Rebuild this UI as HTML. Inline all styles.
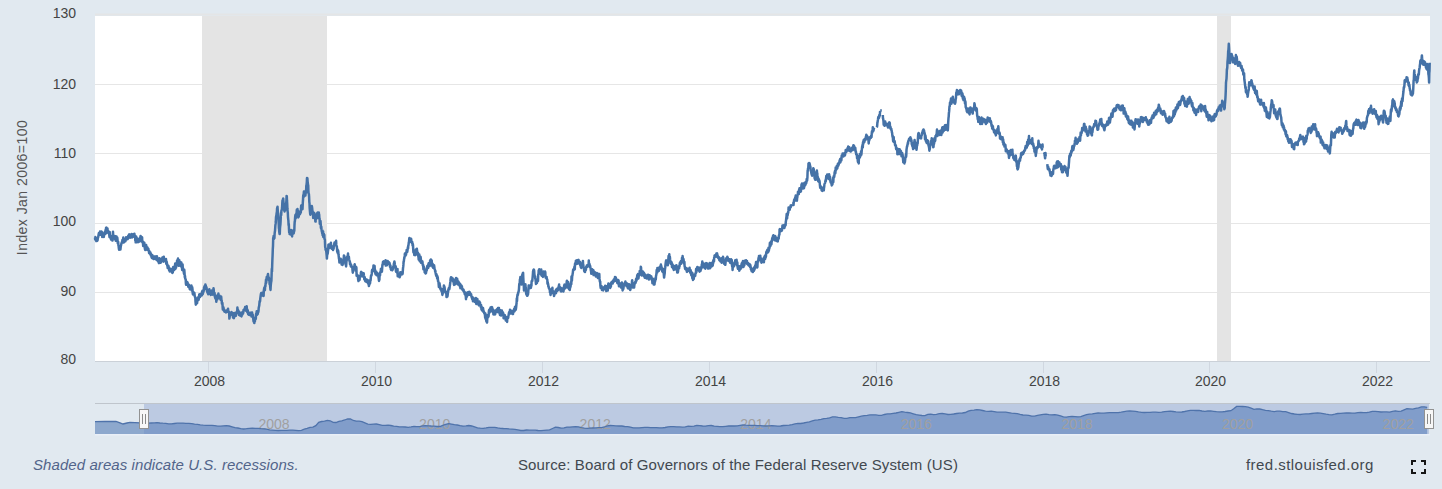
<!DOCTYPE html>
<html><head><meta charset="utf-8"><style>
html,body{margin:0;padding:0;}
body{width:1442px;height:489px;background:#e1e9f0;overflow:hidden;position:relative;font-family:"Liberation Sans", sans-serif;}
svg{position:absolute;left:0;top:0;font-family:"Liberation Sans", sans-serif;}
.ft{position:absolute;top:456px;font-size:15px;line-height:18px;white-space:nowrap;}
</style></head><body>
<svg width="1442" height="489" viewBox="0 0 1442 489">
<rect x="95" y="16" width="1335" height="346" fill="#ffffff"/>
<rect x="95" y="13.5" width="1335" height="2" fill="#e4e5e6"/>
<path d="M95 84.5 L1430 84.5" stroke="#e6e6e6" stroke-width="1"/>
<path d="M95 153.5 L1430 153.5" stroke="#e6e6e6" stroke-width="1"/>
<path d="M95 223.5 L1430 223.5" stroke="#e6e6e6" stroke-width="1"/>
<path d="M95 292.5 L1430 292.5" stroke="#e6e6e6" stroke-width="1"/>
<rect x="202" y="16" width="125" height="345" fill="#e4e4e4"/>
<rect x="1217" y="16" width="14" height="345" fill="#e4e4e4"/>
<path d="M95 361.5 L1430 361.5" stroke="#cbd1d8" stroke-width="1"/>
<path d="M208.5 362 L208.5 373" stroke="#d0d7e0" stroke-width="1"/>
<path d="M375.5 362 L375.5 373" stroke="#d0d7e0" stroke-width="1"/>
<path d="M542.5 362 L542.5 373" stroke="#d0d7e0" stroke-width="1"/>
<path d="M709.5 362 L709.5 373" stroke="#d0d7e0" stroke-width="1"/>
<path d="M876.5 362 L876.5 373" stroke="#d0d7e0" stroke-width="1"/>
<path d="M1043.5 362 L1043.5 373" stroke="#d0d7e0" stroke-width="1"/>
<path d="M1209.5 362 L1209.5 373" stroke="#d0d7e0" stroke-width="1"/>
<path d="M1376.5 362 L1376.5 373" stroke="#d0d7e0" stroke-width="1"/>
<path d="M95.0 237.6 L95.2 239.6 L95.4 237.0 L95.6 239.2 L95.9 238.0 L96.1 237.8 L96.3 241.1 L96.5 239.5 L96.7 238.9 L96.9 239.9 L97.2 240.9 L97.4 239.6 L97.6 240.2 L97.8 238.2 L98.0 237.8 L98.2 237.2 L98.5 235.3 L98.7 234.0 L98.9 233.1 L99.1 234.5 L99.3 234.6 L99.5 234.0 L99.8 234.0 L100.0 231.4 L100.2 232.2 L100.4 233.4 L100.6 234.8 L100.9 233.1 L101.1 233.5 L101.3 231.5 L101.5 233.4 L101.7 231.7 L102.0 232.6 L102.2 236.9 L102.4 233.5 L102.6 236.6 L102.9 236.7 L103.1 235.6 L103.3 236.2 L103.5 236.4 L103.8 237.0 L104.0 235.1 L104.2 233.9 L104.4 233.2 L104.6 232.2 L104.8 233.0 L105.1 231.9 L105.3 234.1 L105.5 230.1 L105.7 229.8 L105.9 229.7 L106.1 227.7 L106.4 232.9 L106.6 227.7 L106.8 229.1 L107.0 228.9 L107.2 232.6 L107.5 228.5 L107.7 232.2 L107.9 230.8 L108.1 231.5 L108.3 231.2 L108.6 233.4 L108.8 231.6 L109.0 233.0 L109.2 234.3 L109.5 237.2 L109.7 232.0 L109.9 236.6 L110.1 237.4 L110.3 235.8 L110.5 236.8 L110.8 236.2 L111.0 239.5 L111.2 238.6 L111.4 238.0 L111.6 238.1 L111.8 237.9 L112.0 237.8 L112.3 236.6 L112.5 240.6 L112.7 235.8 L113.0 231.7 L113.2 235.6 L113.4 236.7 L113.6 237.7 L113.8 237.1 L114.1 236.9 L114.3 237.5 L114.5 238.5 L114.8 236.6 L115.0 236.1 L115.2 239.3 L115.4 238.5 L115.6 236.2 L115.8 240.7 L116.0 239.9 L116.3 237.9 L116.5 236.6 L116.7 238.6 L116.9 237.7 L117.1 237.3 L117.3 237.7 L117.5 239.6 L117.8 243.3 L118.0 242.7 L118.2 241.7 L118.4 245.2 L118.6 246.0 L118.8 248.0 L119.1 249.8 L119.3 249.0 L119.5 249.4 L119.7 248.9 L119.9 246.7 L120.2 248.4 L120.4 249.6 L120.6 247.8 L120.8 246.2 L121.0 245.4 L121.3 244.0 L121.5 243.1 L121.7 243.1 L121.9 242.1 L122.2 242.0 L122.4 239.9 L122.6 241.8 L122.8 241.9 L123.0 240.0 L123.3 237.6 L123.5 240.2 L123.7 242.6 L123.9 240.4 L124.1 240.0 L124.3 239.6 L124.6 241.3 L124.8 239.3 L125.0 241.4 L125.2 240.0 L125.4 241.3 L125.6 240.2 L125.9 239.4 L126.1 237.2 L126.3 237.6 L126.5 238.1 L126.8 239.4 L127.0 239.0 L127.2 237.2 L127.4 238.1 L127.7 239.0 L127.9 237.4 L128.1 236.3 L128.3 235.8 L128.6 237.2 L128.8 237.0 L129.0 234.5 L129.2 235.9 L129.4 235.1 L129.6 234.5 L129.9 237.4 L130.1 237.7 L130.3 235.5 L130.5 236.1 L130.7 237.0 L130.9 235.6 L131.2 236.0 L131.4 237.3 L131.6 234.1 L131.8 236.4 L132.0 237.5 L132.2 237.4 L132.4 234.5 L132.7 236.0 L132.9 234.6 L133.1 236.2 L133.3 236.6 L133.5 236.1 L133.7 234.3 L134.0 234.0 L134.2 235.9 L134.4 233.8 L134.6 235.1 L134.8 236.4 L135.1 236.2 L135.3 240.7 L135.5 239.1 L135.7 242.3 L135.9 237.6 L136.2 236.4 L136.4 241.5 L136.6 242.2 L136.8 241.0 L137.0 241.1 L137.3 238.3 L137.5 239.4 L137.7 239.1 L137.9 240.2 L138.1 242.2 L138.3 241.6 L138.6 241.9 L138.8 240.4 L139.0 240.3 L139.2 241.1 L139.4 240.1 L139.6 241.6 L139.8 238.4 L140.0 241.2 L140.2 237.2 L140.4 238.6 L140.6 235.9 L140.8 239.5 L141.0 238.7 L141.2 239.3 L141.4 240.4 L141.7 239.1 L141.9 238.5 L142.1 237.3 L142.3 242.3 L142.5 241.3 L142.7 241.4 L142.9 242.5 L143.2 246.1 L143.4 241.9 L143.6 243.9 L143.8 243.8 L144.1 245.5 L144.3 242.7 L144.5 244.3 L144.7 246.9 L144.9 249.0 L145.2 250.0 L145.4 246.9 L145.6 247.6 L145.8 247.5 L146.0 245.6 L146.2 245.0 L146.5 248.2 L146.7 248.4 L146.9 247.9 L147.1 249.9 L147.3 247.2 L147.5 248.7 L147.8 248.5 L148.0 248.3 L148.2 249.2 L148.4 249.0 L148.6 249.6 L148.8 250.1 L149.1 253.2 L149.3 251.1 L149.5 252.9 L149.8 253.2 L150.0 252.2 L150.2 254.0 L150.4 252.4 L150.7 255.4 L150.9 253.7 L151.1 254.0 L151.3 255.5 L151.5 256.9 L151.7 257.6 L152.0 258.0 L152.2 256.7 L152.4 255.3 L152.6 257.4 L152.8 257.9 L153.0 256.3 L153.3 258.9 L153.5 258.8 L153.7 257.2 L153.9 259.0 L154.1 256.8 L154.3 256.8 L154.6 258.7 L154.8 256.4 L155.0 258.1 L155.2 256.5 L155.4 259.1 L155.6 257.7 L155.9 258.7 L156.1 256.4 L156.3 257.5 L156.5 259.8 L156.7 259.7 L156.9 256.2 L157.2 259.3 L157.4 260.2 L157.6 258.6 L157.8 261.1 L158.1 258.3 L158.3 259.2 L158.5 261.4 L158.7 262.6 L158.9 263.1 L159.2 260.0 L159.4 258.2 L159.6 261.1 L159.9 259.5 L160.1 261.1 L160.3 260.1 L160.5 262.7 L160.7 262.8 L160.9 262.0 L161.1 260.7 L161.4 259.9 L161.6 258.8 L161.8 259.2 L162.0 258.7 L162.2 258.5 L162.4 257.5 L162.6 260.9 L162.9 259.6 L163.1 261.1 L163.3 261.6 L163.6 258.6 L163.8 256.7 L164.0 260.6 L164.2 259.5 L164.4 260.1 L164.7 259.9 L164.9 260.6 L165.1 259.2 L165.3 260.7 L165.5 260.9 L165.8 261.9 L166.0 259.0 L166.2 263.2 L166.4 264.0 L166.6 261.5 L166.8 262.5 L167.1 264.2 L167.3 265.9 L167.5 265.8 L167.7 268.1 L167.9 267.1 L168.1 265.5 L168.4 265.7 L168.6 268.2 L168.8 267.2 L169.0 269.3 L169.2 270.5 L169.4 270.5 L169.7 271.4 L169.9 270.1 L170.1 270.3 L170.3 269.7 L170.5 269.8 L170.7 268.7 L171.0 270.1 L171.2 270.0 L171.4 269.7 L171.6 271.5 L171.8 272.2 L172.1 271.0 L172.3 272.9 L172.5 272.6 L172.8 272.4 L173.0 269.6 L173.2 267.1 L173.4 269.2 L173.7 269.2 L173.9 269.5 L174.1 268.9 L174.3 270.0 L174.5 267.9 L174.7 268.6 L174.9 266.4 L175.2 263.6 L175.4 265.4 L175.6 268.8 L175.8 265.0 L176.0 267.8 L176.2 265.1 L176.4 264.0 L176.7 263.6 L176.9 263.1 L177.1 260.4 L177.4 260.5 L177.6 260.3 L177.8 260.1 L178.0 258.6 L178.2 262.0 L178.4 264.0 L178.6 265.8 L178.9 261.1 L179.1 262.4 L179.3 260.2 L179.5 263.3 L179.7 265.0 L179.9 263.0 L180.1 262.0 L180.4 264.6 L180.6 266.2 L180.8 264.8 L181.1 265.4 L181.3 262.4 L181.5 264.4 L181.7 266.5 L181.9 267.4 L182.2 270.0 L182.4 266.9 L182.6 264.6 L182.8 268.3 L183.0 268.1 L183.2 269.6 L183.5 271.0 L183.7 271.5 L183.9 273.2 L184.1 273.9 L184.3 269.8 L184.5 272.3 L184.8 277.1 L185.0 275.9 L185.2 278.6 L185.4 278.8 L185.7 279.3 L185.9 283.4 L186.1 284.8 L186.3 283.1 L186.5 284.5 L186.7 281.7 L187.0 281.9 L187.2 284.5 L187.4 284.2 L187.6 282.6 L187.8 284.5 L188.0 285.0 L188.3 286.8 L188.5 286.9 L188.7 285.3 L188.9 284.6 L189.1 285.1 L189.3 285.3 L189.6 288.1 L189.8 289.2 L190.0 289.4 L190.2 288.1 L190.5 287.0 L190.7 288.5 L190.9 287.3 L191.2 288.0 L191.4 285.5 L191.6 286.7 L191.8 290.4 L192.0 288.2 L192.2 287.3 L192.5 289.4 L192.7 293.1 L192.9 294.4 L193.1 292.4 L193.3 292.0 L193.5 292.9 L193.8 292.3 L194.0 294.0 L194.2 294.4 L194.4 293.1 L194.6 294.9 L194.8 296.7 L195.1 297.0 L195.3 297.5 L195.5 301.3 L195.8 304.7 L196.0 303.2 L196.2 303.2 L196.4 303.7 L196.6 302.4 L196.8 300.8 L197.1 303.2 L197.3 299.8 L197.5 298.9 L197.7 298.3 L197.9 297.5 L198.1 297.8 L198.4 298.7 L198.6 299.9 L198.8 298.7 L199.0 297.0 L199.2 294.5 L199.4 295.5 L199.6 294.4 L199.9 295.2 L200.1 296.9 L200.3 296.2 L200.5 295.3 L200.7 294.1 L200.9 294.7 L201.2 295.0 L201.4 293.4 L201.6 293.5 L201.8 295.5 L202.0 291.8 L202.2 292.2 L202.5 290.8 L202.7 294.1 L202.9 293.3 L203.2 292.6 L203.4 291.9 L203.6 291.1 L203.8 290.5 L204.1 287.2 L204.3 288.6 L204.5 289.2 L204.7 285.9 L205.0 288.0 L205.2 288.0 L205.4 284.4 L205.6 285.6 L205.8 286.6 L206.0 286.9 L206.3 288.8 L206.5 287.3 L206.7 288.8 L206.9 290.3 L207.1 291.9 L207.3 291.8 L207.6 291.7 L207.8 293.4 L208.0 290.3 L208.2 294.2 L208.4 293.3 L208.6 291.5 L208.9 292.2 L209.1 290.3 L209.3 289.3 L209.5 291.6 L209.7 291.6 L209.9 293.8 L210.2 292.0 L210.4 290.8 L210.6 290.9 L210.8 294.9 L211.0 293.5 L211.2 292.1 L211.5 291.1 L211.7 290.6 L211.9 291.8 L212.1 293.0 L212.3 294.4 L212.6 294.7 L212.8 293.5 L213.0 291.7 L213.2 290.8 L213.5 288.3 L213.7 289.4 L213.9 292.6 L214.1 293.0 L214.4 294.7 L214.6 293.1 L214.8 296.5 L215.0 297.1 L215.2 297.5 L215.4 298.6 L215.7 295.5 L215.9 297.6 L216.1 298.2 L216.3 301.8 L216.5 299.6 L216.7 298.2 L216.9 299.5 L217.2 296.8 L217.4 299.4 L217.6 296.7 L217.8 296.6 L218.0 295.0 L218.2 297.3 L218.4 293.6 L218.6 296.9 L218.9 295.7 L219.1 296.8 L219.3 295.4 L219.5 297.1 L219.7 297.6 L219.9 298.5 L220.1 298.4 L220.4 299.0 L220.6 299.8 L220.8 298.0 L221.0 296.4 L221.2 296.8 L221.5 300.5 L221.7 300.7 L221.9 303.7 L222.1 303.7 L222.4 302.9 L222.6 306.2 L222.8 309.5 L223.0 308.0 L223.3 307.1 L223.5 307.7 L223.7 310.5 L223.9 309.4 L224.2 309.6 L224.4 311.6 L224.6 311.4 L224.9 311.8 L225.1 311.2 L225.3 311.1 L225.5 311.9 L225.8 312.0 L226.0 312.4 L226.2 310.7 L226.4 311.3 L226.7 311.5 L226.9 310.8 L227.1 311.1 L227.3 311.7 L227.6 310.4 L227.8 309.7 L228.0 308.7 L228.2 310.9 L228.5 311.5 L228.7 311.9 L228.9 311.7 L229.2 314.3 L229.4 318.6 L229.6 317.2 L229.8 315.8 L230.0 315.7 L230.2 313.9 L230.4 314.2 L230.7 313.0 L230.9 312.5 L231.1 313.4 L231.3 313.5 L231.5 312.8 L231.7 312.1 L231.9 313.8 L232.2 312.6 L232.4 315.4 L232.6 314.9 L232.8 315.5 L233.0 317.2 L233.2 317.7 L233.5 315.4 L233.7 316.6 L233.9 318.2 L234.1 315.9 L234.3 312.9 L234.6 315.2 L234.8 315.5 L235.0 316.0 L235.2 315.4 L235.4 314.9 L235.6 314.6 L235.9 315.9 L236.1 314.6 L236.3 314.0 L236.5 312.0 L236.7 313.4 L236.9 311.5 L237.2 312.0 L237.4 307.6 L237.6 309.4 L237.8 310.0 L238.0 309.8 L238.3 312.7 L238.5 312.5 L238.7 311.8 L238.9 311.3 L239.1 315.0 L239.3 314.7 L239.6 314.7 L239.8 312.8 L240.0 315.6 L240.2 315.6 L240.4 314.6 L240.6 314.8 L240.9 312.8 L241.1 315.9 L241.3 314.4 L241.5 316.4 L241.7 314.8 L242.0 313.8 L242.2 314.7 L242.4 314.4 L242.6 312.1 L242.8 312.7 L243.0 313.6 L243.3 312.3 L243.5 310.0 L243.7 310.7 L243.9 309.6 L244.2 309.6 L244.4 310.3 L244.6 310.2 L244.8 309.6 L245.1 307.1 L245.3 309.1 L245.5 308.6 L245.7 308.0 L246.0 308.4 L246.2 310.9 L246.4 307.4 L246.7 306.3 L246.9 309.9 L247.1 309.0 L247.3 312.2 L247.6 310.1 L247.8 310.5 L248.0 313.0 L248.2 314.2 L248.5 314.2 L248.7 314.6 L248.9 313.6 L249.1 312.8 L249.3 312.8 L249.6 315.0 L249.8 314.7 L250.0 313.5 L250.2 313.6 L250.4 314.3 L250.6 315.0 L250.8 313.1 L251.1 312.6 L251.3 313.0 L251.5 316.4 L251.7 313.9 L251.9 315.6 L252.1 312.6 L252.3 316.0 L252.5 314.3 L252.8 314.9 L253.0 316.4 L253.2 318.3 L253.4 320.0 L253.6 321.5 L253.8 320.9 L254.0 319.4 L254.3 323.1 L254.5 320.6 L254.7 319.9 L254.9 321.4 L255.1 319.9 L255.3 318.5 L255.6 317.4 L255.8 319.0 L256.0 314.7 L256.2 313.4 L256.5 314.5 L256.7 311.3 L256.9 312.0 L257.1 314.8 L257.4 313.0 L257.6 313.2 L257.8 313.8 L258.0 311.0 L258.3 312.0 L258.5 310.8 L258.7 308.0 L258.9 307.0 L259.2 305.8 L259.4 303.6 L259.6 301.3 L259.9 301.7 L260.1 300.9 L260.3 298.4 L260.5 296.8 L260.8 294.6 L261.0 293.9 L261.2 293.0 L261.4 294.4 L261.7 295.5 L261.9 295.5 L262.1 293.8 L262.3 292.8 L262.5 293.3 L262.7 293.3 L262.9 294.0 L263.2 295.4 L263.4 292.6 L263.6 295.9 L263.8 290.6 L264.0 289.4 L264.2 288.2 L264.4 287.6 L264.7 287.7 L264.9 290.2 L265.1 286.0 L265.4 286.5 L265.6 283.5 L265.8 282.5 L266.0 279.7 L266.2 283.0 L266.5 279.7 L266.7 277.1 L266.9 279.8 L267.1 276.7 L267.3 276.7 L267.6 276.1 L267.8 275.0 L268.0 274.0 L268.2 275.7 L268.4 279.0 L268.7 278.4 L268.9 277.5 L269.1 280.7 L269.4 279.8 L269.6 284.1 L269.8 284.5 L270.0 284.6 L270.3 288.0 L270.5 290.0 L270.7 286.1 L270.9 283.8 L271.1 282.4 L271.4 280.7 L271.6 274.9 L271.8 268.7 L272.0 271.8 L272.2 265.0 L272.4 259.2 L272.6 255.1 L272.8 249.0 L273.0 245.8 L273.2 237.9 L273.4 238.0 L273.6 236.0 L273.8 239.1 L274.0 237.0 L274.2 237.9 L274.4 238.2 L274.6 234.0 L274.8 231.9 L275.0 231.0 L275.2 228.0 L275.4 225.1 L275.6 223.9 L275.8 222.0 L276.0 217.4 L276.2 215.9 L276.4 215.4 L276.6 213.5 L276.9 211.7 L277.1 208.1 L277.3 210.2 L277.5 206.7 L277.7 209.7 L277.9 212.2 L278.1 215.1 L278.3 218.1 L278.5 219.5 L278.7 223.8 L278.9 228.3 L279.1 229.4 L279.2 231.4 L279.4 232.9 L279.6 234.0 L279.8 233.8 L280.0 228.1 L280.2 226.2 L280.4 224.7 L280.6 221.3 L280.8 216.4 L281.0 213.0 L281.2 215.1 L281.4 210.9 L281.7 210.0 L281.9 209.4 L282.1 207.5 L282.3 203.0 L282.5 200.4 L282.8 201.1 L283.0 199.3 L283.2 198.4 L283.4 201.1 L283.6 203.5 L283.8 203.4 L284.0 204.3 L284.2 209.9 L284.4 210.7 L284.6 211.5 L284.8 208.5 L285.0 210.4 L285.3 207.3 L285.5 205.6 L285.7 206.6 L285.9 205.5 L286.1 204.5 L286.4 200.5 L286.6 195.9 L286.8 196.3 L287.0 200.7 L287.2 203.5 L287.4 208.7 L287.6 211.4 L287.8 212.2 L288.0 216.8 L288.2 219.1 L288.4 220.7 L288.6 225.2 L288.8 223.9 L289.0 229.2 L289.2 232.4 L289.4 230.2 L289.6 234.0 L289.8 234.2 L290.0 232.7 L290.2 233.0 L290.4 232.6 L290.6 233.6 L290.8 232.8 L291.0 230.1 L291.2 234.2 L291.4 234.9 L291.7 232.5 L291.9 234.2 L292.1 236.4 L292.3 231.6 L292.6 231.8 L292.8 231.6 L293.0 233.1 L293.2 232.1 L293.5 230.1 L293.7 233.4 L293.9 232.0 L294.1 230.7 L294.3 231.0 L294.5 224.8 L294.7 221.7 L294.9 221.1 L295.1 217.6 L295.3 215.8 L295.5 214.8 L295.7 218.4 L296.0 215.9 L296.2 214.4 L296.4 213.3 L296.6 213.1 L296.8 209.7 L297.1 210.4 L297.3 211.8 L297.5 209.0 L297.7 211.0 L297.9 212.0 L298.1 212.2 L298.3 217.4 L298.5 216.9 L298.7 216.7 L298.9 215.6 L299.1 215.0 L299.3 213.5 L299.5 212.4 L299.8 211.7 L300.0 214.1 L300.2 212.2 L300.4 211.3 L300.6 210.8 L300.8 212.7 L301.0 207.9 L301.2 205.5 L301.4 206.9 L301.7 207.3 L301.9 207.0 L302.1 205.8 L302.3 207.3 L302.5 209.2 L302.7 204.9 L302.9 201.0 L303.0 200.1 L303.2 195.7 L303.4 194.9 L303.6 195.5 L303.9 191.6 L304.1 196.6 L304.3 194.9 L304.5 195.2 L304.7 194.9 L305.0 194.8 L305.2 192.0 L305.4 195.6 L305.6 193.1 L305.8 190.6 L306.1 192.8 L306.3 185.6 L306.5 185.1 L306.8 182.3 L307.0 178.1 L307.2 180.7 L307.4 178.3 L307.6 181.3 L307.8 182.9 L308.0 184.9 L308.2 185.0 L308.4 191.1 L308.6 193.5 L308.9 194.1 L309.1 196.6 L309.3 201.8 L309.5 203.4 L309.7 208.5 L310.0 212.0 L310.2 213.9 L310.4 214.7 L310.6 213.1 L310.8 213.8 L311.0 211.4 L311.2 213.0 L311.4 208.7 L311.6 207.4 L311.8 206.1 L312.0 206.9 L312.2 208.4 L312.4 210.9 L312.6 211.0 L312.8 212.7 L313.0 213.2 L313.2 217.9 L313.4 216.7 L313.6 217.7 L313.9 212.7 L314.1 215.4 L314.3 215.6 L314.5 217.8 L314.7 218.1 L315.0 217.7 L315.2 219.2 L315.4 221.6 L315.6 221.6 L315.8 218.4 L316.0 219.1 L316.2 216.1 L316.4 216.4 L316.6 213.5 L316.8 214.8 L317.0 217.5 L317.2 214.5 L317.5 216.0 L317.7 212.5 L317.9 212.8 L318.1 217.9 L318.3 215.5 L318.6 215.7 L318.8 212.6 L319.0 214.3 L319.2 214.8 L319.4 218.9 L319.6 218.4 L319.8 223.8 L320.1 220.8 L320.3 223.0 L320.5 221.0 L320.7 223.8 L320.9 227.9 L321.1 228.1 L321.3 226.7 L321.5 229.4 L321.8 231.4 L322.0 231.8 L322.2 233.2 L322.4 230.5 L322.6 235.1 L322.9 235.3 L323.1 231.6 L323.3 237.0 L323.5 235.5 L323.7 237.0 L323.9 234.1 L324.1 235.7 L324.3 234.8 L324.5 239.0 L324.7 239.0 L324.9 240.0 L325.0 242.7 L325.2 247.2 L325.4 247.3 L325.6 249.9 L325.8 249.0 L326.0 249.0 L326.3 251.6 L326.5 253.7 L326.7 255.9 L326.9 258.6 L327.1 255.7 L327.3 254.0 L327.5 254.2 L327.8 252.9 L328.0 250.8 L328.2 249.7 L328.4 244.8 L328.6 246.0 L328.8 244.7 L329.0 246.0 L329.2 248.1 L329.4 244.7 L329.7 247.5 L329.9 245.9 L330.1 245.8 L330.3 245.3 L330.5 246.7 L330.7 244.9 L330.9 242.7 L331.1 245.9 L331.3 246.4 L331.5 247.9 L331.7 248.6 L332.0 246.3 L332.2 248.0 L332.4 248.6 L332.6 248.7 L332.8 249.3 L333.0 250.0 L333.2 248.1 L333.4 247.7 L333.6 248.8 L333.8 245.5 L334.0 245.6 L334.3 243.7 L334.5 242.6 L334.7 242.7 L334.9 243.2 L335.1 244.8 L335.3 242.3 L335.5 244.2 L335.7 244.8 L335.9 244.9 L336.1 240.7 L336.3 244.9 L336.6 246.7 L336.8 246.1 L337.0 248.3 L337.2 251.6 L337.4 249.2 L337.6 250.0 L337.8 253.1 L338.1 250.5 L338.3 251.6 L338.5 254.5 L338.8 257.1 L339.0 258.9 L339.2 259.3 L339.4 262.5 L339.7 261.2 L339.9 258.9 L340.1 259.9 L340.3 261.6 L340.5 261.9 L340.7 258.7 L340.9 261.4 L341.2 260.7 L341.4 261.5 L341.6 264.5 L341.8 263.1 L342.0 262.1 L342.2 262.9 L342.4 261.6 L342.6 264.9 L342.8 263.7 L343.0 263.1 L343.2 260.1 L343.5 258.9 L343.7 259.5 L343.9 255.6 L344.1 258.9 L344.3 256.0 L344.5 256.8 L344.7 258.5 L345.0 257.9 L345.2 260.0 L345.4 261.8 L345.6 264.7 L345.9 264.0 L346.1 266.5 L346.3 263.6 L346.5 260.9 L346.7 260.7 L347.0 257.7 L347.2 256.8 L347.4 256.4 L347.6 256.1 L347.8 255.8 L348.0 253.5 L348.2 257.5 L348.5 257.4 L348.7 257.1 L348.9 256.8 L349.1 259.2 L349.3 260.1 L349.6 261.5 L349.8 261.2 L350.0 264.1 L350.2 262.9 L350.5 264.0 L350.7 264.6 L350.9 266.6 L351.2 265.1 L351.4 265.8 L351.6 266.6 L351.9 266.6 L352.1 267.0 L352.3 266.8 L352.5 270.1 L352.8 272.7 L353.0 270.2 L353.2 271.4 L353.4 268.6 L353.6 267.9 L353.8 268.1 L354.0 268.4 L354.3 268.7 L354.5 264.9 L354.7 264.3 L354.9 265.9 L355.1 265.5 L355.3 268.6 L355.5 267.3 L355.7 267.2 L355.9 270.8 L356.2 266.9 L356.4 267.8 L356.6 275.8 L356.8 274.0 L357.0 274.9 L357.2 275.2 L357.4 274.8 L357.6 276.2 L357.8 275.4 L358.1 279.0 L358.3 280.3 L358.5 281.1 L358.7 279.4 L358.9 277.8 L359.1 280.0 L359.3 278.6 L359.6 279.8 L359.8 276.5 L360.0 275.9 L360.2 276.7 L360.5 276.7 L360.7 275.5 L360.9 272.5 L361.2 271.8 L361.4 275.0 L361.6 274.9 L361.8 272.5 L362.0 276.0 L362.2 274.2 L362.4 274.1 L362.7 273.0 L362.9 276.4 L363.1 275.5 L363.3 275.1 L363.5 274.0 L363.7 273.3 L363.9 275.7 L364.1 276.6 L364.3 279.5 L364.6 277.1 L364.8 277.5 L365.0 280.1 L365.2 281.0 L365.4 278.9 L365.6 281.6 L365.8 280.9 L366.0 281.4 L366.2 280.8 L366.5 281.6 L366.7 279.8 L366.9 279.6 L367.1 281.6 L367.3 281.2 L367.5 281.0 L367.7 283.0 L368.0 282.9 L368.2 283.7 L368.4 280.6 L368.6 282.9 L368.9 286.1 L369.1 285.2 L369.3 284.4 L369.5 284.2 L369.7 282.9 L370.0 283.2 L370.2 281.9 L370.4 279.8 L370.6 280.3 L370.8 277.6 L371.1 275.5 L371.3 275.6 L371.5 275.4 L371.8 273.4 L372.0 270.6 L372.2 269.9 L372.4 270.0 L372.7 270.0 L372.9 270.8 L373.1 268.8 L373.3 268.3 L373.5 265.5 L373.7 270.0 L373.9 270.9 L374.2 270.1 L374.4 268.9 L374.6 266.0 L374.8 270.3 L375.0 269.5 L375.2 272.9 L375.4 273.1 L375.6 274.3 L375.8 272.8 L376.0 274.6 L376.2 271.6 L376.5 275.2 L376.7 274.4 L376.9 272.7 L377.1 273.7 L377.3 273.4 L377.5 275.4 L377.7 274.9 L377.9 274.2 L378.1 275.7 L378.4 276.7 L378.6 277.9 L378.8 279.3 L379.0 280.9 L379.2 279.1 L379.4 279.9 L379.6 273.3 L379.8 274.4 L380.0 275.6 L380.3 272.0 L380.5 272.0 L380.7 272.1 L380.9 268.9 L381.1 268.8 L381.3 269.9 L381.5 268.5 L381.7 270.4 L381.9 271.7 L382.2 268.0 L382.4 264.8 L382.6 265.1 L382.8 263.9 L383.0 261.8 L383.2 262.3 L383.5 261.9 L383.7 261.4 L383.9 262.8 L384.1 262.9 L384.3 262.8 L384.5 262.0 L384.7 263.4 L384.9 263.6 L385.2 264.4 L385.4 263.3 L385.6 260.2 L385.8 265.6 L386.0 265.4 L386.2 264.7 L386.4 264.7 L386.6 264.2 L386.9 263.3 L387.1 265.2 L387.3 263.3 L387.5 262.4 L387.7 260.9 L387.9 261.9 L388.1 263.2 L388.3 263.0 L388.5 263.7 L388.8 262.2 L389.0 263.9 L389.2 262.6 L389.4 263.2 L389.6 263.1 L389.8 264.7 L390.0 267.0 L390.2 266.9 L390.4 265.5 L390.6 267.0 L390.8 269.2 L391.1 269.8 L391.3 270.0 L391.5 268.0 L391.7 268.7 L391.9 269.1 L392.1 269.9 L392.3 270.3 L392.6 269.7 L392.8 268.4 L393.0 268.9 L393.2 266.7 L393.5 266.1 L393.7 266.1 L393.9 263.4 L394.2 262.9 L394.4 261.4 L394.6 262.4 L394.8 264.4 L395.0 265.5 L395.2 267.0 L395.4 267.8 L395.7 266.3 L395.9 270.8 L396.1 271.8 L396.3 268.7 L396.5 269.0 L396.7 269.9 L396.9 271.4 L397.1 272.7 L397.3 272.5 L397.5 268.9 L397.7 276.2 L398.0 275.7 L398.2 275.8 L398.4 273.8 L398.6 274.7 L398.8 276.6 L399.0 275.3 L399.2 276.9 L399.4 275.6 L399.6 277.3 L399.8 275.3 L400.0 276.7 L400.3 272.3 L400.5 275.3 L400.7 274.5 L400.9 272.8 L401.1 274.3 L401.3 272.6 L401.5 273.2 L401.7 273.2 L401.9 273.0 L402.2 274.2 L402.4 273.0 L402.6 273.9 L402.8 271.2 L403.0 268.3 L403.2 266.9 L403.4 264.9 L403.6 261.6 L403.8 261.7 L404.1 258.9 L404.3 258.4 L404.5 257.3 L404.7 255.7 L404.9 253.5 L405.1 253.7 L405.3 253.6 L405.6 255.5 L405.8 254.7 L406.0 254.8 L406.2 252.5 L406.5 251.8 L406.7 250.0 L406.9 249.8 L407.2 251.9 L407.4 251.0 L407.6 249.3 L407.9 247.1 L408.1 248.5 L408.3 245.5 L408.5 245.2 L408.8 242.3 L409.0 241.9 L409.2 239.3 L409.4 238.0 L409.6 241.3 L409.8 240.1 L410.0 240.6 L410.3 241.7 L410.5 241.8 L410.7 241.1 L410.9 238.8 L411.1 238.8 L411.3 239.9 L411.5 241.8 L411.7 242.6 L411.9 243.1 L412.2 242.0 L412.4 243.3 L412.6 245.6 L412.8 244.0 L413.0 245.3 L413.2 249.0 L413.4 252.2 L413.7 252.5 L413.9 253.0 L414.1 252.9 L414.3 255.1 L414.5 253.8 L414.7 254.4 L414.9 255.0 L415.1 254.4 L415.3 255.1 L415.6 251.5 L415.8 249.6 L416.0 252.6 L416.2 252.6 L416.4 249.2 L416.6 249.4 L416.8 248.8 L417.1 250.8 L417.3 252.6 L417.5 254.7 L417.8 253.1 L418.0 252.8 L418.2 256.1 L418.4 256.4 L418.7 259.7 L418.9 257.6 L419.1 257.5 L419.3 254.5 L419.5 259.5 L419.8 261.3 L420.0 260.6 L420.2 259.4 L420.4 256.6 L420.6 256.9 L420.8 258.5 L421.0 262.8 L421.2 262.8 L421.5 260.8 L421.7 262.0 L421.9 262.7 L422.1 263.1 L422.3 261.3 L422.5 262.1 L422.7 264.9 L423.0 265.7 L423.2 264.9 L423.4 269.3 L423.6 267.8 L423.8 266.8 L424.1 268.9 L424.3 269.8 L424.5 269.2 L424.7 272.3 L424.9 272.6 L425.1 271.6 L425.4 272.8 L425.6 273.5 L425.8 272.8 L426.0 273.2 L426.2 270.9 L426.4 270.1 L426.7 270.7 L426.9 267.6 L427.1 267.5 L427.3 266.0 L427.5 267.5 L427.8 265.6 L428.0 268.1 L428.2 267.9 L428.4 264.0 L428.6 264.0 L428.8 262.9 L429.0 262.9 L429.3 263.6 L429.5 264.8 L429.7 266.0 L429.9 265.5 L430.1 260.6 L430.4 260.0 L430.6 260.0 L430.8 259.5 L431.0 259.8 L431.2 261.3 L431.4 260.4 L431.7 260.4 L431.9 265.1 L432.1 264.3 L432.4 266.7 L432.6 263.7 L432.8 266.0 L433.0 267.5 L433.2 267.8 L433.5 265.2 L433.7 266.7 L433.9 265.7 L434.1 265.4 L434.4 267.5 L434.6 269.4 L434.8 269.4 L435.0 270.1 L435.2 271.9 L435.4 271.0 L435.6 272.9 L435.9 274.4 L436.1 275.3 L436.3 275.9 L436.5 274.3 L436.7 275.4 L436.9 276.1 L437.2 278.6 L437.4 276.2 L437.6 278.9 L437.8 277.6 L438.0 281.2 L438.2 281.0 L438.5 282.4 L438.7 284.7 L438.9 287.1 L439.1 284.2 L439.3 285.4 L439.5 283.2 L439.8 285.6 L440.0 286.0 L440.2 288.6 L440.4 288.7 L440.6 289.5 L440.9 288.4 L441.1 289.7 L441.3 289.4 L441.5 291.5 L441.7 289.1 L441.9 290.9 L442.1 292.5 L442.4 294.9 L442.6 293.7 L442.8 292.9 L443.0 291.6 L443.2 292.1 L443.5 289.6 L443.7 289.2 L443.9 285.5 L444.1 286.1 L444.3 289.6 L444.5 286.9 L444.8 289.6 L445.0 290.4 L445.2 290.7 L445.4 292.3 L445.6 292.8 L445.8 291.8 L446.1 293.5 L446.3 292.0 L446.5 297.0 L446.7 296.7 L446.9 297.0 L447.1 293.8 L447.4 296.4 L447.6 295.4 L447.8 293.5 L448.0 292.2 L448.2 291.5 L448.4 289.1 L448.6 288.7 L448.9 287.9 L449.1 287.9 L449.3 289.1 L449.5 288.3 L449.7 286.1 L449.9 285.4 L450.2 283.2 L450.4 281.7 L450.6 278.9 L450.8 278.0 L451.0 277.2 L451.2 278.1 L451.5 277.5 L451.7 277.7 L451.9 278.2 L452.1 278.8 L452.3 278.3 L452.6 278.3 L452.8 279.2 L453.0 281.4 L453.2 280.4 L453.5 279.9 L453.7 282.2 L453.9 284.3 L454.1 284.9 L454.4 284.0 L454.6 279.8 L454.8 280.9 L455.0 282.3 L455.2 283.1 L455.4 284.3 L455.6 280.3 L455.9 280.8 L456.1 277.9 L456.3 278.9 L456.5 279.3 L456.8 281.5 L457.0 281.4 L457.2 278.8 L457.4 280.6 L457.7 282.2 L457.9 284.5 L458.1 282.2 L458.3 281.5 L458.6 282.0 L458.8 284.8 L459.0 283.9 L459.2 284.4 L459.5 285.4 L459.7 284.0 L459.9 286.7 L460.1 283.7 L460.4 288.2 L460.6 286.1 L460.8 285.3 L461.0 285.6 L461.2 285.3 L461.4 285.9 L461.6 286.5 L461.9 286.3 L462.1 288.0 L462.3 289.5 L462.5 288.9 L462.7 290.1 L463.0 289.2 L463.2 290.8 L463.4 290.7 L463.6 289.8 L463.8 291.6 L464.1 292.0 L464.3 291.6 L464.5 292.7 L464.7 294.2 L464.9 292.3 L465.1 293.0 L465.4 295.2 L465.6 295.2 L465.8 296.6 L466.0 299.2 L466.2 294.4 L466.5 295.2 L466.7 294.3 L466.9 296.6 L467.1 295.9 L467.3 292.6 L467.6 295.2 L467.8 294.3 L468.0 293.4 L468.2 293.5 L468.4 293.8 L468.6 292.1 L468.9 292.2 L469.1 294.7 L469.3 291.8 L469.5 292.0 L469.7 294.4 L470.0 292.8 L470.2 293.7 L470.4 295.0 L470.6 293.8 L470.8 294.6 L471.1 294.2 L471.3 295.4 L471.5 296.8 L471.7 297.1 L471.9 297.8 L472.1 298.4 L472.4 299.5 L472.6 297.3 L472.8 298.7 L473.0 301.3 L473.2 299.5 L473.5 298.9 L473.7 299.3 L473.9 298.4 L474.1 300.1 L474.3 299.8 L474.6 299.6 L474.8 301.0 L475.0 302.1 L475.2 298.7 L475.4 299.1 L475.6 299.6 L475.9 298.1 L476.1 300.9 L476.3 304.0 L476.5 303.0 L476.7 303.5 L476.9 299.0 L477.2 300.0 L477.4 299.0 L477.6 302.0 L477.8 301.6 L478.0 301.6 L478.2 302.6 L478.5 303.4 L478.7 305.1 L478.9 305.3 L479.1 305.1 L479.3 301.5 L479.5 305.0 L479.8 304.7 L480.0 302.4 L480.2 304.6 L480.4 305.0 L480.6 305.6 L480.9 307.6 L481.1 305.1 L481.3 307.6 L481.5 309.5 L481.7 306.9 L481.9 310.2 L482.1 308.4 L482.4 308.1 L482.6 310.8 L482.8 310.5 L483.0 308.0 L483.2 309.3 L483.5 312.0 L483.7 311.3 L483.9 311.5 L484.1 312.5 L484.3 313.4 L484.5 313.1 L484.8 313.1 L485.0 315.6 L485.2 318.0 L485.4 313.5 L485.6 317.1 L485.8 319.5 L486.1 317.8 L486.3 321.3 L486.5 318.4 L486.7 321.6 L486.9 322.6 L487.1 322.2 L487.4 315.3 L487.6 316.7 L487.8 315.0 L488.0 316.0 L488.2 317.2 L488.4 315.6 L488.6 316.3 L488.9 311.0 L489.1 310.1 L489.3 309.8 L489.5 311.4 L489.7 312.5 L489.9 309.6 L490.2 308.4 L490.4 310.5 L490.6 307.6 L490.8 309.4 L491.0 307.6 L491.2 308.0 L491.5 311.1 L491.7 308.4 L491.9 307.8 L492.1 307.1 L492.3 309.4 L492.5 312.0 L492.8 311.9 L493.0 309.4 L493.2 311.6 L493.4 314.5 L493.6 312.1 L493.9 313.0 L494.1 312.6 L494.3 313.4 L494.5 313.5 L494.7 312.4 L494.9 314.6 L495.2 314.2 L495.4 310.6 L495.6 310.9 L495.8 311.3 L496.0 310.5 L496.2 311.9 L496.5 311.5 L496.7 312.0 L496.9 309.3 L497.1 309.1 L497.3 309.3 L497.6 309.1 L497.8 308.9 L498.0 307.9 L498.2 309.0 L498.4 312.2 L498.6 309.7 L498.9 307.9 L499.1 310.4 L499.3 309.6 L499.5 312.1 L499.7 313.4 L500.0 315.0 L500.2 313.4 L500.4 310.3 L500.6 314.5 L500.8 314.8 L501.0 315.5 L501.2 313.9 L501.5 312.8 L501.7 313.1 L501.9 310.5 L502.1 314.0 L502.3 312.7 L502.6 312.3 L502.8 313.8 L503.0 312.4 L503.2 314.5 L503.4 313.6 L503.6 318.2 L503.9 318.3 L504.1 317.9 L504.3 317.7 L504.5 317.6 L504.7 317.2 L504.9 315.3 L505.1 317.2 L505.4 317.8 L505.6 318.9 L505.8 320.5 L506.0 317.3 L506.2 317.0 L506.4 317.4 L506.7 317.4 L506.9 319.2 L507.1 322.0 L507.3 318.2 L507.5 318.0 L507.8 316.5 L508.0 316.2 L508.2 317.9 L508.4 315.7 L508.6 315.3 L508.8 314.0 L509.1 312.2 L509.3 313.8 L509.5 312.0 L509.8 313.6 L510.0 309.8 L510.2 310.6 L510.4 313.1 L510.6 310.5 L510.8 311.4 L511.1 313.5 L511.3 312.7 L511.5 310.7 L511.7 311.0 L511.9 312.2 L512.1 311.4 L512.4 311.5 L512.6 312.6 L512.8 311.0 L513.0 314.1 L513.2 311.2 L513.4 310.8 L513.6 310.4 L513.9 311.7 L514.1 309.0 L514.3 311.4 L514.5 311.3 L514.7 310.3 L514.9 307.2 L515.1 306.7 L515.3 308.5 L515.5 310.1 L515.7 309.5 L515.9 309.0 L516.2 306.7 L516.4 304.3 L516.6 303.0 L516.8 298.4 L517.0 301.1 L517.2 297.2 L517.5 294.6 L517.7 295.0 L517.9 294.8 L518.1 292.8 L518.3 293.0 L518.5 291.8 L518.8 290.7 L519.0 288.6 L519.2 285.1 L519.4 283.5 L519.7 283.3 L519.9 279.5 L520.1 279.6 L520.4 277.0 L520.6 280.2 L520.8 284.1 L521.0 283.7 L521.3 282.4 L521.5 284.6 L521.7 283.6 L521.9 282.4 L522.1 277.1 L522.3 274.5 L522.5 275.5 L522.7 274.4 L522.9 272.9 L523.1 272.8 L523.3 278.1 L523.6 283.4 L523.8 285.8 L524.0 290.5 L524.2 288.2 L524.5 287.2 L524.7 289.6 L524.9 289.2 L525.1 284.4 L525.4 284.2 L525.6 287.0 L525.8 287.6 L526.0 292.0 L526.2 293.7 L526.5 294.5 L526.7 293.0 L526.9 293.4 L527.1 295.8 L527.3 295.5 L527.5 295.7 L527.8 294.5 L528.0 294.3 L528.2 292.5 L528.4 290.0 L528.7 285.4 L528.9 285.7 L529.1 285.5 L529.4 288.3 L529.6 285.7 L529.8 285.8 L530.0 287.2 L530.3 287.6 L530.5 287.9 L530.7 286.8 L530.9 287.8 L531.2 284.6 L531.4 286.0 L531.6 281.6 L531.8 280.9 L532.1 281.2 L532.3 280.8 L532.5 278.5 L532.7 276.5 L532.9 274.2 L533.1 271.2 L533.4 270.0 L533.6 274.2 L533.8 269.5 L534.0 269.9 L534.2 270.8 L534.4 273.8 L534.6 275.6 L534.9 276.4 L535.1 276.3 L535.3 278.9 L535.5 278.5 L535.7 281.1 L536.0 284.0 L536.2 281.5 L536.4 282.9 L536.6 282.5 L536.9 282.9 L537.1 281.9 L537.3 281.7 L537.6 280.2 L537.8 280.4 L538.0 280.9 L538.2 274.5 L538.5 274.5 L538.7 270.3 L538.9 270.2 L539.2 269.3 L539.4 271.6 L539.6 273.6 L539.8 272.2 L540.1 272.4 L540.3 271.0 L540.5 271.4 L540.7 270.2 L541.0 271.8 L541.2 269.4 L541.4 275.3 L541.6 275.6 L541.9 273.1 L542.1 272.5 L542.3 272.6 L542.5 273.5 L542.7 274.1 L542.9 276.9 L543.2 274.2 L543.4 271.4 L543.6 273.9 L543.8 274.8 L544.0 273.1 L544.2 275.0 L544.5 274.0 L544.7 272.7 L544.9 273.3 L545.1 271.6 L545.3 272.3 L545.5 276.6 L545.7 277.7 L546.0 277.7 L546.2 277.5 L546.4 278.3 L546.6 276.9 L546.8 279.1 L547.0 279.0 L547.3 279.7 L547.5 283.8 L547.7 282.1 L547.9 283.4 L548.2 284.5 L548.4 286.8 L548.6 286.2 L548.8 287.8 L549.1 288.7 L549.3 288.8 L549.5 288.8 L549.7 288.8 L550.0 292.6 L550.2 291.4 L550.4 293.7 L550.6 295.0 L550.9 292.0 L551.1 290.3 L551.3 289.7 L551.5 290.1 L551.7 292.9 L551.9 290.5 L552.2 289.2 L552.4 287.8 L552.6 289.9 L552.8 291.3 L553.1 293.4 L553.3 292.3 L553.5 291.6 L553.7 291.5 L554.0 296.0 L554.2 295.5 L554.4 294.4 L554.6 292.3 L554.9 292.0 L555.1 292.2 L555.3 291.8 L555.6 292.2 L555.8 290.2 L556.0 293.2 L556.2 289.5 L556.5 290.5 L556.7 290.7 L556.9 290.7 L557.1 291.0 L557.4 289.2 L557.6 288.2 L557.8 289.9 L558.0 290.2 L558.3 288.3 L558.5 289.1 L558.7 286.2 L558.9 287.7 L559.1 284.5 L559.3 288.5 L559.6 286.9 L559.8 288.7 L560.0 288.6 L560.2 287.2 L560.5 289.1 L560.7 291.0 L560.9 288.0 L561.1 291.4 L561.4 290.3 L561.6 288.2 L561.8 288.6 L562.0 289.9 L562.3 290.9 L562.5 289.1 L562.7 288.8 L562.9 289.7 L563.2 289.4 L563.4 291.6 L563.6 290.3 L563.8 289.7 L564.0 286.6 L564.2 285.4 L564.5 284.6 L564.7 285.6 L564.9 286.6 L565.1 288.4 L565.4 287.6 L565.6 284.5 L565.8 284.5 L566.0 287.6 L566.3 285.3 L566.5 285.0 L566.7 281.9 L566.9 280.7 L567.2 281.5 L567.4 281.9 L567.6 283.8 L567.8 283.9 L568.1 281.9 L568.3 287.9 L568.5 287.1 L568.7 284.2 L568.9 288.8 L569.1 289.3 L569.4 288.3 L569.6 288.8 L569.8 290.0 L570.0 285.0 L570.2 287.7 L570.4 286.7 L570.6 286.3 L570.9 283.6 L571.1 282.0 L571.3 284.1 L571.5 276.6 L571.7 280.4 L571.9 280.7 L572.2 275.8 L572.4 275.6 L572.6 274.1 L572.8 273.1 L573.0 270.9 L573.2 269.4 L573.5 270.3 L573.7 269.2 L573.9 269.4 L574.1 269.3 L574.4 266.8 L574.6 269.5 L574.8 269.1 L575.0 263.7 L575.3 263.7 L575.5 262.8 L575.7 263.2 L575.9 260.7 L576.2 263.3 L576.4 260.6 L576.6 263.9 L576.8 260.6 L577.1 263.7 L577.3 262.4 L577.5 262.8 L577.7 262.1 L577.9 262.0 L578.1 260.0 L578.4 260.6 L578.6 260.0 L578.8 260.7 L579.0 261.2 L579.3 263.5 L579.5 263.9 L579.7 263.5 L579.9 261.7 L580.2 265.5 L580.4 264.6 L580.6 265.3 L580.8 267.1 L581.1 267.3 L581.3 268.0 L581.5 267.1 L581.8 263.3 L582.0 265.3 L582.2 263.9 L582.4 264.3 L582.7 262.8 L582.9 260.9 L583.1 264.6 L583.3 264.6 L583.5 266.8 L583.8 267.7 L584.0 269.1 L584.2 270.8 L584.4 271.5 L584.6 270.3 L584.8 270.1 L585.0 272.1 L585.3 270.2 L585.5 269.0 L585.7 268.9 L585.9 269.9 L586.1 267.2 L586.3 267.3 L586.6 266.4 L586.8 265.5 L587.0 267.0 L587.2 265.4 L587.5 265.7 L587.7 266.1 L587.9 266.2 L588.1 266.1 L588.4 266.3 L588.6 264.0 L588.8 260.6 L589.0 264.4 L589.3 266.5 L589.5 263.9 L589.7 264.9 L590.0 267.2 L590.2 266.1 L590.4 267.7 L590.6 268.3 L590.9 270.7 L591.1 271.4 L591.3 273.8 L591.6 270.9 L591.8 270.4 L592.0 269.3 L592.2 271.5 L592.5 271.7 L592.7 271.8 L592.9 273.1 L593.1 271.3 L593.4 270.1 L593.6 275.1 L593.8 273.6 L594.1 271.8 L594.3 274.3 L594.5 273.8 L594.7 272.1 L595.0 273.6 L595.2 275.2 L595.4 275.3 L595.7 274.2 L595.9 276.6 L596.1 273.6 L596.3 273.8 L596.6 274.9 L596.8 273.1 L597.0 275.1 L597.3 275.4 L597.5 276.4 L597.7 275.7 L597.9 278.1 L598.2 273.9 L598.4 274.1 L598.6 274.0 L598.8 274.8 L599.1 276.1 L599.3 274.0 L599.5 278.4 L599.8 281.2 L600.0 282.0 L600.2 281.4 L600.4 285.6 L600.7 288.0 L600.9 288.0 L601.1 287.7 L601.4 287.7 L601.6 286.3 L601.8 288.4 L602.0 290.0 L602.3 289.3 L602.5 287.5 L602.7 287.7 L602.9 287.8 L603.2 290.4 L603.4 287.8 L603.6 288.4 L603.8 287.4 L604.1 289.2 L604.3 286.9 L604.5 288.1 L604.7 287.2 L604.9 288.4 L605.2 285.7 L605.4 286.9 L605.6 289.0 L605.8 289.0 L606.0 286.5 L606.3 291.1 L606.5 289.3 L606.7 287.7 L606.9 287.1 L607.1 286.1 L607.4 289.4 L607.6 290.0 L607.8 290.5 L608.0 287.0 L608.2 284.6 L608.4 283.5 L608.7 284.2 L608.9 285.7 L609.1 285.3 L609.3 284.1 L609.6 286.8 L609.8 285.6 L610.0 286.5 L610.2 287.9 L610.5 285.1 L610.7 284.5 L610.9 286.7 L611.1 283.0 L611.4 283.3 L611.6 282.1 L611.8 282.8 L612.0 282.0 L612.3 282.7 L612.5 281.5 L612.7 283.5 L613.0 281.0 L613.2 281.1 L613.4 282.1 L613.6 279.9 L613.9 279.4 L614.1 279.9 L614.3 279.4 L614.6 280.9 L614.8 278.9 L615.0 276.9 L615.2 279.4 L615.5 277.7 L615.7 277.3 L615.9 278.1 L616.1 280.6 L616.4 281.1 L616.6 280.5 L616.8 280.6 L617.0 279.8 L617.2 283.0 L617.4 283.1 L617.7 280.5 L617.9 282.6 L618.1 280.0 L618.3 280.2 L618.6 280.7 L618.8 284.4 L619.0 286.3 L619.2 284.2 L619.5 282.9 L619.7 285.5 L619.9 283.7 L620.1 286.5 L620.4 283.7 L620.6 286.0 L620.8 284.2 L621.0 287.5 L621.3 286.3 L621.5 284.9 L621.7 285.8 L621.9 282.5 L622.1 285.3 L622.3 287.2 L622.6 290.5 L622.8 286.5 L623.0 288.8 L623.2 289.3 L623.4 288.4 L623.7 286.3 L623.9 286.2 L624.1 284.5 L624.3 285.4 L624.5 283.3 L624.8 283.5 L625.0 284.2 L625.2 282.7 L625.4 281.5 L625.7 282.7 L625.9 283.4 L626.1 283.9 L626.3 284.1 L626.6 286.2 L626.8 284.5 L627.0 286.2 L627.2 283.5 L627.5 285.3 L627.7 286.2 L627.9 288.3 L628.1 285.5 L628.4 288.5 L628.6 286.7 L628.8 286.0 L629.0 284.2 L629.3 287.8 L629.5 286.9 L629.7 289.0 L630.0 288.9 L630.2 290.1 L630.4 289.6 L630.6 287.5 L630.9 286.6 L631.1 286.5 L631.3 286.6 L631.5 284.3 L631.8 285.6 L632.0 281.0 L632.2 280.2 L632.4 283.5 L632.6 284.3 L632.8 287.4 L633.0 287.1 L633.3 284.2 L633.5 283.5 L633.7 285.3 L633.9 285.9 L634.1 287.6 L634.3 285.5 L634.5 284.1 L634.8 283.1 L635.0 283.5 L635.2 281.9 L635.4 282.0 L635.6 282.9 L635.8 281.3 L636.1 279.0 L636.3 280.3 L636.5 280.6 L636.7 278.0 L637.0 277.6 L637.2 275.5 L637.4 275.3 L637.6 274.9 L637.9 274.1 L638.1 274.7 L638.3 278.5 L638.5 278.2 L638.8 275.4 L639.0 275.6 L639.2 275.0 L639.5 274.6 L639.7 271.1 L639.9 272.6 L640.1 271.3 L640.3 271.8 L640.6 272.2 L640.8 266.8 L641.0 267.2 L641.3 271.9 L641.5 275.0 L641.7 275.4 L641.9 272.7 L642.2 273.2 L642.4 275.1 L642.6 274.6 L642.8 271.6 L643.1 275.4 L643.3 274.6 L643.5 275.1 L643.7 272.6 L644.0 272.8 L644.2 276.4 L644.4 274.9 L644.6 275.8 L644.8 277.8 L645.0 275.9 L645.3 275.3 L645.5 274.7 L645.7 276.1 L645.9 276.0 L646.2 276.3 L646.4 278.3 L646.6 277.4 L646.8 278.4 L647.1 275.7 L647.3 275.9 L647.5 277.5 L647.7 275.9 L648.0 274.7 L648.2 276.5 L648.4 276.2 L648.6 277.5 L648.9 279.6 L649.1 277.1 L649.3 275.3 L649.5 275.9 L649.8 275.6 L650.0 275.5 L650.2 278.0 L650.4 277.8 L650.6 277.4 L650.9 276.2 L651.1 277.7 L651.3 276.4 L651.5 279.5 L651.7 278.3 L652.0 278.3 L652.2 279.9 L652.4 283.1 L652.6 278.6 L652.8 281.1 L653.0 279.8 L653.3 279.2 L653.5 281.3 L653.7 284.4 L653.9 280.8 L654.1 281.3 L654.3 284.5 L654.5 284.3 L654.8 281.4 L655.0 281.8 L655.2 280.6 L655.4 279.0 L655.6 277.8 L655.8 279.4 L656.0 276.0 L656.3 274.9 L656.5 273.1 L656.7 270.1 L657.0 270.3 L657.2 272.6 L657.4 267.9 L657.6 268.6 L657.9 270.9 L658.1 270.7 L658.3 270.0 L658.5 270.9 L658.8 270.9 L659.0 270.5 L659.2 269.4 L659.4 269.2 L659.6 267.0 L659.8 268.9 L660.0 268.7 L660.3 267.8 L660.5 265.8 L660.7 266.6 L660.9 264.6 L661.1 267.4 L661.3 266.1 L661.5 269.1 L661.7 267.6 L661.9 269.9 L662.1 270.6 L662.3 271.6 L662.5 270.8 L662.8 268.7 L663.0 272.2 L663.2 272.3 L663.4 271.5 L663.6 272.5 L663.9 275.5 L664.1 277.6 L664.3 275.7 L664.5 274.5 L664.7 273.4 L664.9 269.7 L665.2 267.9 L665.4 265.7 L665.6 263.8 L665.8 262.2 L666.0 261.0 L666.2 260.4 L666.5 261.4 L666.7 263.1 L666.9 262.0 L667.1 263.1 L667.3 261.5 L667.6 261.3 L667.8 265.3 L668.0 262.9 L668.2 263.7 L668.4 258.6 L668.6 255.9 L668.9 258.1 L669.1 257.9 L669.3 254.3 L669.5 257.2 L669.7 257.4 L669.9 256.8 L670.1 259.4 L670.3 261.0 L670.5 261.4 L670.7 261.3 L670.9 264.0 L671.1 263.2 L671.3 263.2 L671.6 262.2 L671.8 264.4 L672.0 267.1 L672.2 265.6 L672.4 265.5 L672.6 264.5 L672.9 266.2 L673.1 268.6 L673.3 268.1 L673.5 268.9 L673.8 269.9 L674.0 267.2 L674.2 266.7 L674.4 268.4 L674.7 267.5 L674.9 266.0 L675.1 267.1 L675.3 268.0 L675.6 269.3 L675.8 266.7 L676.0 268.4 L676.2 269.5 L676.4 265.3 L676.6 269.9 L676.8 270.4 L677.0 268.7 L677.2 272.5 L677.4 271.2 L677.6 270.1 L677.8 272.5 L678.1 270.9 L678.3 266.8 L678.5 266.7 L678.7 268.9 L678.9 268.3 L679.1 268.3 L679.4 265.5 L679.6 266.1 L679.8 263.2 L680.0 262.6 L680.2 263.3 L680.5 262.0 L680.7 262.3 L680.9 261.1 L681.1 261.1 L681.3 263.7 L681.5 261.9 L681.8 261.9 L682.0 257.8 L682.2 257.6 L682.4 259.6 L682.6 256.1 L682.8 257.8 L683.0 258.9 L683.3 262.1 L683.5 259.1 L683.7 260.6 L684.0 262.4 L684.2 263.7 L684.4 261.9 L684.6 266.2 L684.9 267.2 L685.1 268.9 L685.3 268.8 L685.5 269.3 L685.8 268.6 L686.0 268.9 L686.2 268.0 L686.4 270.2 L686.6 268.6 L686.8 271.7 L687.0 271.9 L687.3 270.4 L687.5 271.3 L687.7 269.0 L687.9 269.3 L688.1 270.0 L688.3 269.0 L688.5 269.9 L688.8 270.7 L689.0 270.3 L689.2 269.8 L689.4 269.1 L689.6 267.7 L689.8 271.1 L690.1 270.5 L690.3 272.8 L690.5 269.9 L690.7 270.5 L691.0 272.8 L691.2 275.0 L691.4 275.3 L691.6 275.6 L691.9 272.6 L692.1 275.0 L692.3 278.1 L692.5 273.3 L692.8 276.0 L693.0 280.0 L693.2 275.8 L693.4 276.4 L693.7 279.0 L693.9 277.5 L694.1 276.4 L694.3 276.9 L694.5 275.3 L694.7 276.1 L695.0 274.8 L695.2 275.8 L695.4 273.4 L695.6 273.2 L695.9 273.1 L696.1 269.1 L696.3 272.2 L696.5 270.8 L696.8 269.5 L697.0 267.5 L697.2 268.4 L697.4 267.0 L697.7 268.6 L697.9 270.1 L698.1 268.1 L698.4 267.5 L698.6 268.6 L698.8 269.1 L699.0 270.8 L699.2 267.8 L699.5 271.2 L699.7 271.7 L699.9 270.2 L700.1 267.8 L700.3 270.3 L700.5 270.9 L700.8 269.4 L701.0 269.1 L701.2 268.7 L701.4 267.2 L701.6 267.2 L701.8 264.4 L702.0 266.1 L702.3 261.5 L702.5 265.5 L702.7 267.2 L703.0 266.9 L703.2 263.6 L703.4 263.3 L703.6 264.9 L703.8 263.4 L704.0 265.1 L704.2 265.2 L704.5 267.8 L704.7 265.9 L704.9 265.4 L705.1 267.2 L705.3 268.7 L705.5 266.8 L705.8 264.5 L706.0 263.9 L706.2 263.1 L706.4 265.3 L706.6 264.2 L706.9 265.3 L707.1 263.4 L707.3 265.0 L707.5 266.9 L707.8 265.3 L708.0 268.5 L708.2 268.0 L708.5 266.9 L708.7 267.5 L708.9 268.4 L709.1 266.7 L709.3 266.1 L709.5 266.7 L709.7 263.1 L710.0 268.2 L710.2 266.8 L710.4 266.5 L710.6 267.5 L710.8 265.0 L711.0 263.5 L711.2 263.0 L711.4 264.0 L711.6 265.7 L711.9 262.9 L712.1 266.2 L712.3 264.0 L712.5 262.4 L712.7 265.7 L712.9 263.1 L713.1 263.7 L713.3 260.2 L713.5 261.8 L713.8 259.9 L714.0 261.4 L714.2 257.1 L714.4 256.6 L714.6 255.6 L714.8 257.1 L715.0 255.5 L715.3 255.9 L715.5 256.3 L715.7 255.6 L716.0 256.2 L716.2 256.4 L716.4 253.4 L716.6 256.4 L716.8 253.9 L717.1 253.4 L717.3 256.9 L717.5 255.1 L717.7 255.8 L718.0 257.8 L718.2 256.8 L718.4 257.7 L718.6 258.3 L718.8 258.5 L719.0 257.2 L719.3 260.2 L719.5 259.7 L719.7 260.5 L719.9 260.0 L720.2 259.0 L720.4 261.5 L720.6 259.4 L720.8 261.2 L721.0 259.1 L721.3 258.4 L721.5 259.3 L721.7 262.8 L721.9 261.7 L722.2 260.0 L722.4 259.9 L722.6 260.9 L722.8 259.2 L723.0 256.8 L723.3 257.7 L723.5 259.8 L723.7 259.7 L723.9 260.7 L724.2 263.9 L724.4 262.6 L724.6 262.0 L724.8 262.2 L725.0 263.8 L725.3 264.8 L725.5 263.2 L725.7 261.0 L726.0 259.9 L726.2 258.2 L726.4 258.2 L726.6 260.3 L726.8 260.1 L727.1 259.4 L727.3 256.8 L727.5 257.9 L727.7 257.4 L728.0 260.7 L728.2 259.6 L728.4 259.3 L728.6 259.4 L728.9 259.7 L729.1 260.0 L729.3 259.3 L729.5 260.6 L729.7 260.9 L730.0 262.4 L730.2 262.5 L730.4 263.0 L730.6 261.6 L730.9 262.2 L731.1 259.2 L731.3 260.5 L731.5 262.1 L731.7 259.9 L732.0 265.0 L732.2 266.6 L732.4 266.3 L732.6 269.9 L732.8 264.6 L733.0 265.2 L733.3 265.2 L733.5 264.1 L733.7 266.5 L734.0 266.4 L734.2 265.2 L734.4 262.5 L734.6 263.2 L734.8 262.9 L735.1 263.3 L735.3 260.2 L735.5 260.3 L735.7 263.8 L736.0 263.5 L736.2 263.3 L736.4 263.6 L736.6 259.8 L736.9 265.2 L737.1 262.6 L737.3 262.4 L737.5 265.4 L737.7 267.9 L738.0 268.8 L738.2 266.8 L738.4 266.1 L738.6 268.5 L738.9 268.9 L739.1 266.4 L739.3 270.7 L739.5 266.6 L739.7 268.6 L739.9 268.9 L740.2 269.3 L740.4 268.3 L740.6 268.9 L740.8 268.0 L741.0 265.7 L741.2 265.2 L741.5 267.8 L741.7 263.4 L741.9 265.8 L742.1 264.6 L742.3 262.4 L742.6 263.1 L742.8 265.2 L743.0 260.9 L743.2 265.1 L743.5 266.9 L743.7 264.8 L743.9 264.3 L744.1 264.4 L744.3 265.4 L744.6 262.5 L744.8 262.2 L745.0 263.1 L745.2 260.4 L745.5 262.0 L745.7 261.7 L745.9 262.6 L746.1 260.3 L746.3 261.4 L746.6 262.5 L746.8 262.5 L747.0 261.0 L747.2 264.0 L747.5 263.2 L747.7 263.5 L747.9 263.6 L748.1 264.8 L748.3 264.5 L748.6 263.4 L748.8 265.6 L749.0 265.1 L749.2 265.5 L749.5 265.9 L749.7 264.2 L749.9 265.8 L750.1 267.0 L750.3 265.1 L750.6 266.7 L750.8 267.8 L751.0 269.7 L751.2 269.1 L751.5 269.9 L751.7 271.3 L751.9 269.3 L752.1 269.0 L752.3 269.4 L752.5 270.8 L752.8 272.0 L753.0 270.3 L753.2 269.3 L753.4 268.2 L753.6 268.6 L753.9 270.8 L754.1 268.6 L754.3 267.2 L754.5 269.7 L754.7 267.8 L755.0 266.9 L755.2 265.5 L755.4 267.8 L755.6 266.4 L755.9 263.4 L756.1 261.9 L756.3 265.0 L756.5 264.5 L756.8 265.7 L757.0 266.0 L757.2 267.4 L757.4 267.0 L757.6 262.5 L757.9 261.8 L758.1 260.3 L758.3 261.7 L758.5 258.1 L758.8 259.6 L759.0 255.9 L759.2 258.4 L759.4 259.8 L759.6 256.1 L759.9 257.7 L760.1 257.4 L760.3 255.8 L760.5 259.4 L760.8 258.0 L761.0 260.5 L761.2 260.5 L761.4 262.7 L761.6 260.0 L761.9 261.3 L762.1 260.8 L762.3 259.9 L762.5 261.9 L762.8 261.1 L763.0 260.2 L763.2 261.0 L763.4 258.4 L763.6 260.9 L763.9 262.2 L764.1 257.4 L764.3 258.0 L764.5 257.1 L764.8 256.0 L765.0 257.6 L765.2 259.0 L765.4 256.9 L765.6 255.0 L765.9 257.0 L766.1 254.1 L766.3 252.3 L766.5 251.5 L766.8 253.1 L767.0 251.9 L767.2 251.2 L767.4 249.7 L767.6 250.6 L767.9 250.0 L768.1 252.3 L768.3 250.1 L768.5 247.8 L768.8 250.9 L769.0 249.5 L769.2 248.5 L769.4 248.2 L769.6 247.0 L769.9 242.8 L770.1 244.2 L770.3 246.1 L770.5 245.7 L770.8 242.4 L771.0 241.6 L771.2 242.1 L771.4 244.3 L771.6 242.1 L771.9 240.9 L772.1 238.9 L772.3 238.2 L772.5 237.5 L772.8 237.6 L773.0 235.9 L773.2 235.8 L773.4 235.2 L773.6 238.7 L773.9 239.3 L774.1 238.5 L774.3 238.4 L774.5 240.2 L774.8 240.1 L775.0 239.4 L775.2 236.1 L775.4 236.3 L775.6 240.3 L775.9 240.3 L776.1 239.5 L776.3 237.7 L776.5 241.0 L776.7 239.3 L776.9 240.8 L777.1 241.0 L777.4 240.5 L777.6 239.5 L777.8 241.4 L778.0 238.3 L778.2 237.8 L778.5 237.6 L778.7 238.6 L778.9 235.8 L779.1 235.0 L779.4 234.7 L779.6 229.3 L779.8 229.1 L780.0 229.9 L780.2 229.4 L780.5 231.3 L780.7 229.5 L780.9 230.5 L781.1 231.0 L781.4 229.0 L781.6 229.2 L781.8 230.6 L782.0 230.2 L782.2 228.6 L782.5 225.4 L782.7 225.9 L782.9 226.8 L783.1 227.6 L783.4 227.4 L783.6 227.0 L783.8 225.2 L784.0 227.0 L784.3 228.0 L784.5 226.6 L784.7 225.9 L784.9 226.5 L785.2 224.5 L785.4 224.7 L785.6 225.2 L785.8 221.8 L786.0 220.8 L786.2 218.6 L786.5 216.6 L786.7 213.9 L786.9 215.6 L787.1 218.5 L787.3 214.2 L787.5 215.7 L787.7 215.0 L788.0 212.2 L788.2 213.0 L788.4 210.9 L788.6 207.4 L788.8 210.4 L789.0 209.3 L789.3 208.7 L789.5 209.5 L789.7 209.8 L789.9 207.9 L790.2 207.8 L790.4 207.6 L790.6 205.5 L790.8 207.0 L791.1 205.2 L791.3 205.9 L791.5 206.6 M793.3 202.1 L793.5 205.1 L793.7 202.7 L793.9 201.5 L794.2 199.6 L794.4 199.6 L794.6 199.3 L794.8 200.4 L795.1 197.8 L795.3 198.4 L795.5 197.1 L795.7 195.6 L796.0 198.7 L796.2 198.1 L796.4 198.5 L796.6 200.5 L796.9 200.6 L797.1 198.2 L797.3 197.4 L797.5 195.3 L797.8 194.5 L798.0 191.7 L798.2 193.7 L798.4 192.8 L798.6 193.3 L798.8 194.1 L799.1 189.8 L799.3 189.4 L799.5 188.2 L799.7 190.0 L800.0 188.2 L800.2 190.4 L800.4 191.8 L800.6 191.7 L800.9 191.4 L801.1 188.7 L801.3 187.3 L801.5 184.5 L801.8 185.9 L802.0 183.5 L802.2 183.7 L802.5 187.0 L802.7 187.6 L802.9 184.6 L803.1 188.6 L803.4 184.8 L803.6 183.5 L803.8 187.0 L804.0 188.2 L804.3 185.8 L804.5 186.3 L804.7 182.8 L804.9 185.0 L805.2 183.4 L805.4 185.0 L805.6 182.7 L805.8 182.0 L806.0 183.4 L806.2 183.4 L806.5 181.6 L806.7 179.1 L806.9 180.8 L807.1 180.5 L807.4 177.7 L807.6 171.8 L807.8 170.5 L808.0 168.5 L808.3 168.0 L808.5 163.5 L808.7 163.2 L808.9 166.2 L809.1 163.1 L809.4 163.3 L809.6 163.2 L809.8 166.7 L810.0 165.1 L810.2 167.1 L810.4 166.6 L810.7 170.6 L810.9 171.2 L811.1 170.4 L811.3 173.0 L811.6 174.1 L811.8 174.8 L812.0 172.6 L812.2 175.7 L812.4 173.6 L812.6 171.8 L812.9 171.5 L813.1 170.8 L813.3 168.3 L813.5 170.6 L813.7 169.0 L814.0 173.3 L814.2 171.5 L814.4 172.8 L814.6 178.1 L814.9 176.8 L815.1 179.7 L815.3 179.2 L815.6 179.8 L815.8 179.6 L816.0 177.4 L816.2 175.3 L816.5 174.7 L816.7 173.4 L816.9 170.5 L817.1 173.7 L817.3 173.2 L817.5 178.9 L817.8 179.3 L818.0 177.2 L818.2 181.2 L818.4 178.9 L818.6 180.8 L818.9 179.2 L819.1 180.5 L819.3 182.3 L819.5 181.0 L819.8 183.9 L820.0 186.0 L820.2 187.8 L820.5 188.0 L820.7 187.5 L820.9 188.3 L821.1 186.6 L821.4 186.9 L821.6 190.2 L821.8 187.8 L822.0 188.3 L822.2 191.0 L822.5 190.6 L822.7 189.2 L822.9 190.1 L823.1 190.5 L823.3 190.2 L823.5 189.6 L823.8 190.3 L824.0 187.6 L824.2 187.0 L824.4 184.5 L824.7 183.5 L824.9 183.5 L825.1 182.7 L825.4 181.1 L825.6 180.0 L825.8 181.2 L826.0 178.8 L826.3 176.0 L826.5 177.9 L826.7 177.9 L826.9 176.2 L827.2 174.5 L827.4 176.3 L827.6 177.3 L827.8 176.4 L828.1 175.8 L828.3 176.9 L828.5 178.9 L828.7 176.2 L828.9 177.8 L829.1 174.2 L829.4 175.5 L829.6 177.9 L829.8 178.1 L830.0 176.9 L830.2 180.1 L830.5 181.5 L830.7 182.6 L830.9 181.8 L831.1 182.4 L831.4 183.1 L831.6 184.6 L831.8 185.4 L832.0 184.2 L832.2 184.4 L832.4 184.5 L832.6 182.4 L832.8 182.8 L833.1 177.9 L833.3 182.1 L833.5 177.6 L833.7 176.3 L833.9 176.6 L834.1 177.2 L834.4 175.8 L834.6 172.2 L834.8 172.6 L835.0 171.0 L835.3 173.3 L835.5 171.5 L835.7 167.6 L835.9 168.5 L836.2 169.9 L836.4 167.8 L836.6 169.1 L836.8 165.9 L837.1 166.6 L837.3 168.3 L837.5 166.9 L837.7 164.6 L837.9 163.9 L838.1 165.8 L838.4 165.5 L838.6 164.5 L838.8 164.4 L839.0 162.8 L839.3 162.1 L839.5 161.3 L839.7 160.3 L839.9 161.9 L840.2 159.0 L840.4 162.4 L840.6 161.0 L840.8 158.6 L841.1 160.1 L841.3 160.5 L841.5 158.6 L841.7 155.5 L842.0 156.4 L842.2 156.4 L842.4 155.3 L842.6 153.6 L842.8 153.7 L843.0 155.2 L843.3 154.9 L843.5 156.4 L843.7 153.4 L843.9 155.1 L844.2 153.2 L844.4 154.3 L844.6 154.1 L844.8 155.6 L845.1 154.6 L845.3 152.8 L845.5 152.7 L845.7 150.1 L846.0 151.3 L846.2 152.1 L846.4 151.8 L846.6 150.2 L846.9 150.7 L847.1 150.6 L847.3 150.4 L847.5 148.2 L847.7 149.8 L847.9 148.9 L848.2 146.6 L848.4 147.2 L848.6 149.0 L848.8 150.5 L849.1 148.4 L849.3 147.2 L849.5 147.6 L849.7 149.4 L850.0 151.1 L850.2 150.0 L850.4 149.2 L850.6 151.6 L850.9 151.0 L851.1 149.2 L851.3 149.1 L851.6 150.5 L851.8 148.9 L852.0 148.7 L852.2 147.4 L852.5 148.6 L852.7 150.1 L852.9 150.0 L853.1 147.4 L853.4 145.3 L853.6 148.3 L853.8 148.6 L854.0 145.7 L854.3 149.5 L854.5 148.2 L854.7 147.9 L854.9 149.0 L855.1 147.6 L855.3 147.9 L855.6 152.0 L855.8 151.1 L856.0 152.2 L856.2 154.5 L856.5 154.4 L856.7 154.2 L856.9 155.7 L857.1 158.3 L857.4 158.0 L857.6 157.2 L857.8 160.9 L858.0 161.9 L858.3 158.9 L858.5 160.8 L858.7 163.5 L858.9 158.1 L859.1 156.1 L859.4 158.2 L859.6 156.5 L859.8 153.9 L860.0 157.2 L860.2 155.3 L860.4 155.1 L860.6 155.7 L860.8 154.0 L861.1 151.3 L861.3 154.7 L861.5 153.3 L861.7 151.0 L861.9 149.0 L862.2 146.2 L862.4 147.7 L862.6 144.6 L862.8 147.5 L863.0 142.2 L863.3 144.0 L863.5 141.0 L863.7 140.1 L863.9 142.1 L864.1 141.5 L864.4 141.9 L864.6 139.0 L864.8 139.2 L865.0 138.7 L865.2 139.1 L865.4 140.0 L865.7 138.5 L865.9 136.6 L866.1 137.4 L866.3 134.8 L866.5 135.3 L866.8 138.0 L867.0 135.9 L867.2 138.1 L867.4 137.2 L867.6 136.6 L867.9 138.3 L868.1 139.8 L868.3 139.6 L868.5 140.6 L868.7 143.4 L868.9 141.1 L869.1 140.6 L869.3 138.5 L869.5 139.9 L869.8 137.8 L870.0 138.2 L870.2 136.9 L870.4 138.0 L870.6 137.6 L870.9 137.8 L871.1 136.0 L871.3 135.8 L871.5 137.1 L871.8 132.9 L872.0 131.2 L872.2 132.8 L872.4 132.1 L872.6 131.4 L872.8 127.2 L873.0 128.9 L873.3 130.9 L873.5 130.5 L873.7 129.3 L873.9 128.4 L874.1 127.6 M876.7 127.4 L877.0 126.8 L877.2 125.5 L877.4 122.4 L877.6 122.2 L877.8 120.4 L878.0 119.4 L878.2 117.6 L878.5 116.7 L878.7 118.3 L878.9 117.9 L879.1 117.3 L879.3 115.1 L879.5 115.4 L879.8 115.8 L880.0 112.2 L880.2 111.0 M882.8 115.0 L883.0 118.5 L883.2 118.9 L883.5 121.3 L883.7 124.6 L883.9 121.9 L884.1 122.9 L884.3 125.0 L884.5 125.7 L884.8 123.3 L885.0 123.4 L885.2 121.6 L885.4 124.5 L885.6 124.1 L885.9 125.2 L886.1 124.7 L886.3 123.7 L886.5 124.3 L886.7 124.7 L887.0 124.2 L887.2 124.0 L887.4 124.2 L887.6 125.6 L887.8 126.3 L888.0 127.5 L888.2 126.0 L888.5 125.5 L888.7 127.3 L888.9 124.3 L889.1 122.4 L889.4 126.7 L889.6 122.5 L889.8 123.2 L890.0 127.6 L890.2 126.9 L890.5 126.8 L890.7 128.6 L890.9 129.4 L891.1 129.3 L891.3 128.6 L891.5 130.3 L891.7 130.7 L891.9 132.3 L892.1 132.8 L892.4 135.8 L892.6 137.0 L892.8 135.9 L893.0 139.5 L893.2 141.4 L893.5 136.9 L893.7 137.1 L893.9 141.9 L894.1 141.3 L894.3 141.2 L894.6 141.1 L894.8 142.0 L895.0 144.6 L895.2 145.3 L895.4 145.1 L895.6 145.0 L895.9 145.7 L896.1 148.8 L896.3 148.1 L896.5 149.0 L896.7 149.7 L897.0 150.2 L897.2 148.4 L897.4 154.1 L897.6 153.0 L897.8 154.2 L898.1 150.8 L898.3 149.3 L898.5 151.4 L898.7 151.3 L898.9 150.4 L899.2 154.0 L899.4 150.8 L899.6 149.3 L899.8 154.0 L900.0 153.2 L900.2 150.3 L900.5 153.1 L900.7 151.1 L900.9 151.0 L901.1 151.9 L901.3 152.8 L901.5 156.3 L901.8 153.8 L902.0 153.3 L902.2 153.1 L902.4 155.0 L902.6 154.5 L902.8 156.6 L903.1 159.9 L903.3 162.3 L903.5 160.2 L903.8 160.7 L904.0 160.3 L904.2 161.1 L904.4 163.5 L904.7 160.6 L904.9 162.0 L905.1 160.2 L905.3 158.3 L905.5 157.0 L905.7 156.5 L905.9 154.3 L906.1 156.9 L906.3 154.6 L906.5 149.9 L906.7 148.4 L907.0 146.5 L907.2 146.3 L907.4 145.0 L907.6 144.7 L907.8 142.8 L908.0 143.8 L908.2 141.5 L908.5 140.7 L908.7 140.5 L908.9 139.6 L909.1 138.7 L909.4 138.8 L909.6 138.5 L909.8 138.4 L910.0 138.8 L910.2 137.6 L910.5 137.4 L910.7 139.8 L910.9 140.9 L911.1 139.0 L911.3 141.1 L911.5 140.3 L911.7 143.8 L911.9 144.7 L912.1 144.7 L912.4 146.4 L912.6 146.1 L912.8 147.1 L913.0 148.3 L913.2 149.1 L913.5 148.4 L913.7 146.1 L913.9 145.1 L914.1 142.4 L914.3 142.1 L914.6 140.0 L914.8 142.1 L915.0 143.6 L915.2 142.8 L915.4 143.6 L915.6 148.0 L915.9 147.9 L916.1 146.9 L916.3 148.3 L916.5 149.7 L916.7 148.4 L917.0 145.0 L917.2 145.4 L917.4 142.3 L917.6 143.8 L917.8 141.3 L918.1 135.6 L918.3 133.5 L918.5 135.0 L918.7 133.1 L918.9 133.3 L919.1 137.8 L919.4 135.8 L919.6 135.5 L919.8 136.9 L920.0 137.8 L920.2 137.3 L920.4 138.2 L920.6 135.9 L920.9 137.9 L921.1 138.4 L921.3 136.1 L921.5 135.6 L921.7 135.2 L921.9 134.2 L922.2 132.4 L922.4 133.4 L922.6 131.8 L922.8 131.2 L923.0 130.3 L923.3 131.4 L923.5 129.5 L923.7 132.7 L923.9 130.2 L924.1 130.9 L924.4 133.1 L924.6 134.1 L924.8 133.7 L925.0 139.3 L925.2 137.4 L925.4 135.4 L925.7 137.4 L925.9 140.9 L926.1 141.7 L926.3 139.9 L926.5 139.8 L926.8 143.1 L927.0 141.7 L927.2 142.1 L927.4 140.3 L927.6 141.4 L927.9 143.8 L928.1 141.1 L928.3 144.4 L928.5 145.2 L928.7 146.0 L929.0 147.2 L929.2 148.5 L929.4 150.7 L929.6 147.8 L929.8 149.2 L930.0 146.7 L930.2 145.7 L930.5 145.4 L930.7 144.0 L930.9 144.2 L931.1 141.1 L931.3 141.4 L931.5 140.8 L931.7 138.3 L931.9 138.6 L932.2 142.9 L932.4 142.1 L932.6 143.5 L932.8 143.2 L933.0 142.5 L933.2 147.3 L933.5 146.9 L933.7 143.3 L933.9 144.2 L934.1 143.5 L934.4 138.9 L934.6 138.1 L934.8 140.9 L935.0 141.2 L935.2 140.6 L935.5 136.1 L935.7 136.1 L935.9 136.0 L936.1 135.4 L936.4 134.5 L936.6 135.2 L936.8 132.1 L937.0 129.5 L937.2 132.3 L937.4 136.1 L937.6 132.9 L937.9 132.6 L938.1 133.7 L938.3 132.0 L938.5 133.5 L938.7 132.6 L938.9 132.3 L939.2 131.2 L939.4 132.7 L939.6 133.8 L939.8 135.0 L940.0 132.6 L940.2 130.7 L940.5 131.8 L940.7 133.2 L940.9 130.6 L941.1 131.9 L941.3 135.0 L941.5 133.7 L941.8 129.5 L942.0 129.6 L942.2 127.8 L942.4 127.4 L942.6 132.6 L942.9 130.0 L943.1 128.4 L943.3 129.2 L943.5 127.1 L943.7 130.8 L943.9 130.1 L944.1 128.9 L944.4 129.7 L944.6 129.8 L944.8 129.2 L945.0 125.2 L945.2 126.0 L945.5 129.7 L945.7 126.9 L945.9 126.1 L946.1 125.1 L946.3 127.6 L946.5 127.1 L946.7 126.8 L947.0 129.5 L947.2 127.5 L947.4 129.8 L947.6 130.2 L947.8 130.4 L948.0 127.3 L948.2 122.3 L948.5 118.0 L948.7 116.6 L948.9 112.9 L949.1 111.7 L949.3 109.0 L949.5 106.3 L949.8 106.3 L950.0 102.6 L950.2 103.4 L950.4 102.8 L950.6 102.5 L950.8 101.0 L951.0 98.6 L951.3 99.0 L951.5 103.8 L951.7 99.6 L951.9 101.0 L952.1 100.4 L952.4 100.2 L952.6 98.0 L952.8 96.8 L953.0 98.1 L953.2 99.7 L953.5 100.3 L953.7 102.1 L953.9 101.0 L954.1 100.2 L954.3 102.9 L954.6 103.5 L954.8 101.0 L955.0 103.7 L955.2 102.8 L955.4 102.5 L955.6 99.6 L955.9 98.5 L956.1 95.0 L956.3 92.6 L956.5 95.2 L956.7 92.8 L956.9 90.0 L957.2 90.9 L957.4 92.0 L957.6 91.9 L957.8 90.8 L958.0 92.7 L958.2 92.4 L958.5 94.3 L958.7 92.1 L958.9 94.3 L959.1 93.1 L959.3 92.4 L959.6 91.7 L959.8 92.9 L960.0 92.4 L960.2 90.0 L960.5 91.5 L960.7 90.8 L960.9 92.1 L961.1 90.4 L961.4 92.3 L961.6 95.6 L961.8 92.7 L962.0 96.1 L962.2 94.7 L962.4 93.5 L962.6 95.2 L962.9 98.8 L963.1 95.7 L963.3 96.2 L963.5 100.1 L963.7 99.0 L963.9 99.8 L964.1 96.9 L964.4 100.2 L964.6 98.4 L964.8 100.4 L965.0 103.5 L965.3 101.2 L965.5 102.2 L965.7 107.1 L965.9 107.6 L966.1 107.7 L966.3 108.8 L966.5 109.1 L966.8 111.2 L967.0 108.5 L967.2 112.1 L967.4 111.7 L967.6 111.4 L967.8 111.6 L968.0 108.4 L968.3 110.8 L968.5 109.5 L968.7 113.0 L968.9 110.6 L969.2 113.1 L969.4 112.6 L969.6 114.4 L969.8 111.7 L970.1 110.7 L970.3 107.5 L970.5 107.5 L970.7 108.7 L970.9 108.2 L971.2 109.5 L971.4 109.4 L971.6 110.0 L971.8 112.0 L972.1 111.9 L972.3 112.4 L972.5 112.8 L972.7 113.6 L972.9 110.5 L973.1 109.3 L973.3 108.3 L973.6 107.7 L973.8 108.0 L974.0 107.4 L974.2 107.4 L974.4 103.3 L974.6 104.0 L974.8 105.4 L975.1 107.9 L975.3 108.1 L975.5 110.0 L975.7 110.4 L976.0 109.5 L976.2 108.0 L976.4 108.1 L976.6 110.7 L976.8 109.0 L977.0 113.0 L977.2 116.0 L977.5 116.6 L977.7 118.9 L977.9 119.5 L978.1 118.5 L978.3 121.8 L978.5 119.4 L978.7 121.8 L978.9 117.1 L979.1 119.6 L979.4 119.0 L979.6 121.3 L979.8 120.8 L980.0 122.1 L980.2 124.1 L980.4 122.5 L980.6 123.0 L980.8 123.3 L981.1 121.7 L981.3 118.6 L981.5 117.5 L981.7 118.2 L981.9 120.8 L982.1 124.0 L982.3 121.8 L982.6 119.9 L982.8 121.5 L983.0 121.4 L983.2 118.8 L983.4 120.6 L983.6 120.1 L983.9 119.1 L984.1 119.9 L984.3 121.6 L984.5 121.6 L984.8 122.2 L985.0 120.1 L985.2 119.8 L985.4 122.0 L985.7 123.0 L985.9 124.0 L986.1 123.4 L986.3 120.6 L986.5 119.7 L986.8 122.9 L987.0 121.0 L987.2 122.6 L987.4 120.7 L987.7 117.4 L987.9 118.1 L988.1 119.3 L988.3 121.1 L988.6 119.1 L988.8 120.4 L989.0 120.6 L989.2 118.9 L989.4 119.8 L989.6 120.8 L989.8 118.2 L990.1 121.7 L990.3 122.0 L990.5 120.6 L990.7 120.8 L990.9 121.7 L991.1 121.9 L991.3 123.8 L991.6 126.1 L991.8 125.4 L992.0 125.2 L992.2 128.4 L992.5 128.0 L992.7 129.0 L992.9 126.3 L993.1 129.2 L993.3 128.6 L993.6 130.3 L993.8 129.6 L994.0 132.1 L994.2 130.8 L994.5 132.7 L994.7 131.3 L994.9 131.4 L995.1 130.5 L995.4 134.1 L995.6 133.6 L995.8 135.4 L996.0 134.8 L996.2 133.8 L996.5 130.7 L996.7 132.6 L996.9 132.8 L997.1 132.0 L997.4 128.9 L997.6 132.5 L997.8 128.6 L998.0 130.2 L998.3 126.3 L998.5 128.5 L998.7 132.6 L998.9 133.4 L999.1 132.7 L999.3 134.1 L999.5 132.4 L999.8 133.8 L1000.0 138.5 L1000.2 136.8 L1000.4 136.7 L1000.6 136.3 L1000.8 137.4 L1001.0 139.2 L1001.3 137.7 L1001.5 138.8 L1001.7 138.6 L1001.9 139.4 L1002.2 138.4 L1002.4 139.0 L1002.6 137.3 L1002.8 142.3 L1003.0 141.9 L1003.2 139.5 L1003.4 144.5 L1003.7 142.2 L1003.9 143.3 L1004.1 144.1 L1004.3 143.6 L1004.5 146.6 L1004.7 146.6 L1004.9 146.7 L1005.2 146.4 L1005.4 145.0 L1005.6 147.4 L1005.8 151.3 L1006.1 150.8 L1006.3 150.2 L1006.5 150.0 L1006.7 149.4 L1006.9 150.9 L1007.2 150.5 L1007.4 151.2 L1007.6 151.5 L1007.8 153.4 L1008.1 152.8 L1008.3 151.5 L1008.5 153.5 L1008.7 154.1 L1009.0 157.9 L1009.2 152.9 L1009.4 153.9 L1009.6 151.0 L1009.8 154.2 L1010.0 154.3 L1010.2 155.4 L1010.5 153.5 L1010.7 154.5 L1010.9 149.9 L1011.1 151.0 L1011.3 150.4 L1011.5 153.4 L1011.7 152.4 L1012.0 154.6 L1012.2 151.3 L1012.4 149.7 L1012.6 154.9 L1012.9 154.0 L1013.1 155.6 L1013.3 157.6 L1013.5 158.3 L1013.8 158.3 L1014.0 157.8 L1014.2 156.9 L1014.4 159.8 L1014.6 158.9 L1014.9 156.9 L1015.1 159.7 L1015.3 160.4 L1015.5 156.1 L1015.8 155.5 L1016.0 158.0 L1016.2 161.6 L1016.4 160.6 L1016.6 160.5 L1016.9 166.3 L1017.1 163.9 L1017.3 168.7 L1017.5 168.5 L1017.7 169.4 L1018.0 168.5 L1018.2 167.0 L1018.4 167.2 L1018.6 164.4 L1018.9 163.4 L1019.1 160.9 L1019.3 161.1 L1019.5 159.2 L1019.8 160.7 L1020.0 160.8 L1020.2 158.7 L1020.4 157.5 L1020.7 157.8 L1020.9 156.6 L1021.1 153.2 L1021.3 153.2 L1021.6 153.8 L1021.8 152.7 L1022.0 154.5 L1022.2 154.7 L1022.4 152.5 L1022.7 152.7 L1022.9 153.8 L1023.1 153.9 L1023.3 153.5 L1023.6 152.1 L1023.8 152.4 L1024.0 150.9 L1024.2 150.9 L1024.5 150.2 L1024.7 150.3 L1024.9 150.5 L1025.1 149.6 L1025.3 147.4 L1025.5 148.8 L1025.7 145.9 L1026.0 147.4 L1026.2 147.1 L1026.4 147.1 L1026.6 147.3 L1026.8 147.5 L1027.0 145.0 L1027.2 141.9 L1027.5 144.2 L1027.7 145.6 L1027.9 143.3 L1028.1 139.8 L1028.4 142.4 L1028.6 141.2 L1028.8 138.8 L1029.0 136.0 L1029.2 139.8 L1029.5 143.4 L1029.7 141.0 L1029.9 139.8 L1030.1 140.6 L1030.4 141.7 L1030.6 140.8 L1030.8 140.1 L1031.0 140.3 L1031.3 142.3 L1031.5 141.0 L1031.7 139.9 L1031.9 144.0 L1032.1 142.8 L1032.3 138.2 L1032.5 143.0 L1032.8 144.7 L1033.0 144.2 L1033.2 143.5 L1033.4 146.5 L1033.6 145.4 L1033.8 148.2 L1034.0 148.4 L1034.3 148.4 L1034.5 151.6 L1034.7 151.3 L1034.9 147.8 L1035.2 151.5 L1035.4 152.8 L1035.6 153.8 L1035.8 155.9 L1036.0 153.4 L1036.3 152.7 L1036.5 150.2 L1036.7 148.2 L1036.9 147.5 L1037.2 147.1 L1037.4 148.2 L1037.6 147.3 L1037.8 147.6 L1038.1 146.7 L1038.3 143.7 L1038.5 140.8 L1038.7 143.3 L1038.9 146.0 L1039.2 144.8 L1039.4 143.9 L1039.6 144.4 L1039.8 146.6 L1040.1 146.8 L1040.3 145.1 L1040.5 146.0 L1040.7 145.5 L1041.0 145.9 L1041.2 147.8 L1041.4 147.5 L1041.6 148.5 L1041.8 146.1 L1042.0 149.5 L1042.2 146.6 L1042.5 144.6 L1042.7 147.8 M1044.2 154.3 L1044.4 153.3 L1044.6 155.0 L1044.9 156.6 L1045.1 158.3 L1045.3 155.6 L1045.5 153.1 L1045.7 156.6 M1047.3 164.1 L1047.5 166.4 L1047.8 168.8 L1048.0 169.3 L1048.2 166.8 L1048.4 169.4 L1048.6 168.2 L1048.8 169.3 L1049.0 168.8 L1049.3 169.4 L1049.5 169.3 L1049.7 171.7 L1049.9 171.3 L1050.1 173.3 L1050.3 173.7 L1050.5 175.6 L1050.8 172.1 L1051.0 174.0 L1051.2 175.3 L1051.5 175.9 L1051.7 174.9 L1051.9 174.9 L1052.1 174.5 L1052.3 173.6 L1052.6 173.2 L1052.8 173.2 L1053.0 174.0 L1053.2 170.6 L1053.5 168.8 L1053.7 168.9 L1053.9 166.3 L1054.1 166.7 L1054.3 165.7 L1054.5 167.2 L1054.7 167.5 L1055.0 168.1 L1055.2 167.8 L1055.4 166.9 L1055.6 168.3 L1055.8 167.6 L1056.0 166.7 L1056.2 167.6 L1056.5 166.2 L1056.7 162.4 L1056.9 164.0 L1057.1 161.6 L1057.4 163.4 L1057.6 167.4 L1057.8 166.2 L1058.0 161.2 L1058.2 167.0 L1058.5 165.1 L1058.7 163.9 L1058.9 164.8 L1059.1 164.1 L1059.4 162.4 L1059.6 164.0 L1059.8 165.2 L1060.0 165.8 L1060.3 166.1 L1060.5 164.9 L1060.7 165.5 L1060.9 164.3 L1061.1 167.0 L1061.3 169.8 L1061.5 167.4 L1061.8 168.6 L1062.0 172.1 L1062.2 167.1 L1062.4 166.6 L1062.6 172.3 L1062.8 172.3 L1063.0 171.8 L1063.3 169.0 L1063.5 168.4 L1063.7 167.7 L1063.9 169.3 L1064.2 168.1 L1064.4 167.0 L1064.6 166.0 L1064.8 169.1 L1065.0 168.9 L1065.3 170.0 L1065.5 167.1 L1065.7 169.6 L1065.9 170.6 L1066.2 172.2 L1066.4 172.6 L1066.6 171.7 L1066.8 173.4 L1067.1 172.6 L1067.3 173.6 L1067.5 175.8 L1067.7 173.7 L1067.9 169.6 L1068.1 168.2 L1068.3 167.6 L1068.6 167.8 L1068.8 164.5 L1069.0 162.2 L1069.2 159.2 L1069.4 155.9 L1069.6 157.5 L1069.8 156.2 L1070.1 153.8 L1070.3 155.6 L1070.5 154.0 L1070.7 155.5 L1071.0 153.0 L1071.2 151.0 L1071.4 152.8 L1071.6 150.6 L1071.8 151.6 L1072.0 151.3 L1072.2 147.3 L1072.5 146.0 L1072.7 146.0 L1072.9 148.2 L1073.1 146.5 L1073.3 150.0 L1073.5 148.9 L1073.7 148.1 L1073.9 146.4 L1074.1 146.4 L1074.4 145.6 L1074.6 143.8 L1074.8 142.4 L1075.0 140.4 L1075.2 140.9 L1075.4 139.5 L1075.6 137.8 L1075.8 139.8 L1076.1 140.2 L1076.3 139.7 L1076.5 141.8 L1076.7 142.6 L1076.9 143.8 L1077.1 140.7 L1077.3 141.7 L1077.6 141.3 L1077.8 142.5 L1078.0 141.2 L1078.2 139.9 L1078.4 138.7 L1078.6 139.5 L1078.8 140.9 L1079.0 140.4 L1079.3 138.2 L1079.5 137.1 L1079.7 140.6 L1079.9 139.1 L1080.1 140.7 L1080.3 137.2 L1080.5 135.3 L1080.7 132.4 L1080.9 135.6 L1081.2 132.4 L1081.4 132.1 L1081.6 133.1 L1081.8 131.9 L1082.0 130.5 L1082.2 127.9 L1082.4 130.9 L1082.7 129.2 L1082.9 130.5 L1083.1 127.7 L1083.3 129.5 L1083.6 128.3 L1083.8 126.9 L1084.0 124.1 L1084.2 127.7 L1084.4 123.9 L1084.6 128.5 L1084.8 127.7 L1085.1 129.6 L1085.3 130.0 L1085.5 131.5 L1085.7 126.7 L1085.9 128.5 L1086.1 128.8 L1086.3 128.8 L1086.6 130.6 L1086.8 130.8 L1087.0 134.1 L1087.2 132.0 L1087.5 133.1 L1087.7 135.8 L1087.9 134.1 L1088.1 135.1 L1088.3 135.1 L1088.5 132.6 L1088.7 131.5 L1089.0 130.9 L1089.2 132.1 L1089.4 131.0 L1089.6 126.6 L1089.8 129.5 L1090.0 126.9 L1090.2 128.1 L1090.4 127.2 L1090.6 129.0 L1090.9 131.5 L1091.1 133.3 L1091.3 134.0 L1091.5 132.6 L1091.7 135.2 L1091.9 135.4 L1092.1 130.7 L1092.4 132.3 L1092.6 130.7 L1092.8 129.0 L1093.0 127.9 L1093.3 127.5 L1093.5 126.6 L1093.7 127.0 L1093.9 126.0 L1094.1 125.1 L1094.3 124.0 L1094.5 123.8 L1094.8 125.0 L1095.0 125.3 L1095.2 124.1 L1095.4 120.8 L1095.6 123.0 L1095.8 121.9 L1096.0 120.9 L1096.3 122.7 L1096.5 125.2 L1096.7 125.9 L1096.9 126.8 L1097.2 126.3 L1097.4 129.4 L1097.6 129.7 L1097.8 128.7 L1098.0 129.1 L1098.2 129.4 L1098.4 126.5 L1098.7 125.8 L1098.9 125.7 L1099.1 124.3 L1099.3 123.5 L1099.5 123.4 L1099.7 122.3 L1099.9 122.8 L1100.2 119.6 L1100.4 121.1 L1100.6 123.9 L1100.8 122.1 L1101.1 120.5 L1101.3 118.9 L1101.5 122.6 L1101.7 122.6 L1101.9 124.9 L1102.2 126.0 L1102.4 124.8 L1102.6 126.2 L1102.8 125.3 L1103.1 125.5 L1103.3 124.7 L1103.5 125.1 L1103.7 127.7 L1104.0 128.8 L1104.2 127.6 L1104.4 130.3 L1104.6 129.3 L1104.8 126.3 L1105.1 125.9 L1105.3 125.2 L1105.5 126.2 L1105.7 125.7 L1106.0 124.4 L1106.2 124.7 L1106.4 125.5 L1106.6 125.4 L1106.9 124.5 L1107.1 122.9 L1107.3 121.4 L1107.5 121.3 L1107.7 122.5 L1107.9 122.4 L1108.1 124.7 L1108.4 123.8 L1108.6 122.4 L1108.8 120.8 L1109.0 118.1 L1109.2 117.7 L1109.4 119.1 L1109.6 121.1 L1109.9 122.5 L1110.1 120.9 L1110.3 119.8 L1110.5 118.5 L1110.8 117.6 L1111.0 116.9 L1111.2 114.8 L1111.4 113.5 L1111.6 116.0 L1111.8 114.5 L1112.0 116.5 L1112.3 115.4 L1112.5 116.7 L1112.7 114.1 L1112.9 110.4 L1113.1 112.7 L1113.3 109.8 L1113.5 111.3 L1113.8 110.1 L1114.0 109.1 L1114.2 110.5 L1114.4 108.5 L1114.7 110.3 L1114.9 111.1 L1115.1 109.4 L1115.3 108.8 L1115.6 109.4 L1115.8 109.5 L1116.0 110.2 L1116.2 107.5 L1116.4 107.8 L1116.7 105.4 L1116.9 105.1 L1117.1 105.0 L1117.3 105.6 L1117.6 106.9 L1117.8 104.9 L1118.0 105.0 L1118.2 106.9 L1118.4 105.9 L1118.6 105.3 L1118.8 106.7 L1119.1 108.2 L1119.3 107.1 L1119.5 108.0 L1119.7 109.5 L1119.9 109.3 L1120.1 109.1 L1120.3 109.1 L1120.6 109.8 L1120.8 110.3 L1121.0 108.2 L1121.2 107.0 L1121.5 105.9 L1121.7 109.2 L1121.9 109.9 L1122.1 106.2 L1122.4 106.8 L1122.6 106.6 L1122.8 105.4 L1123.0 109.2 L1123.2 108.9 L1123.5 110.5 L1123.7 113.6 L1123.9 111.3 L1124.1 109.3 L1124.4 108.2 L1124.6 112.9 L1124.8 113.0 L1125.0 111.4 L1125.3 111.6 L1125.5 112.2 L1125.7 115.2 L1125.9 116.5 L1126.1 113.8 L1126.4 116.6 L1126.6 116.4 L1126.8 115.6 L1127.0 117.3 L1127.3 119.0 L1127.5 118.8 L1127.7 118.2 L1127.9 120.1 L1128.1 116.5 L1128.3 119.1 L1128.5 120.0 L1128.8 123.0 L1129.0 120.9 L1129.2 120.2 L1129.4 123.1 L1129.6 122.9 L1129.8 123.9 L1130.0 123.2 L1130.3 121.1 L1130.5 123.4 L1130.7 124.5 L1130.9 122.9 L1131.2 122.2 L1131.4 120.8 L1131.6 124.8 L1131.8 124.3 L1132.1 123.8 L1132.3 122.5 L1132.5 122.1 L1132.7 124.4 L1132.9 127.4 L1133.2 123.6 L1133.4 124.7 L1133.6 126.0 L1133.8 125.6 L1134.1 125.7 L1134.3 126.4 L1134.5 129.5 L1134.7 127.1 L1134.9 124.5 L1135.1 122.3 L1135.3 121.3 L1135.6 119.2 L1135.8 121.9 L1136.0 122.3 L1136.2 121.6 L1136.4 122.8 L1136.6 123.3 L1136.8 122.0 L1137.1 119.7 L1137.3 123.3 L1137.5 123.7 L1137.7 123.0 L1138.0 119.4 L1138.2 123.6 L1138.4 122.2 L1138.6 120.1 L1138.9 122.5 L1139.1 125.2 L1139.3 126.5 L1139.5 123.4 L1139.7 124.1 L1140.0 122.5 L1140.2 121.3 L1140.4 119.2 L1140.6 121.9 L1140.9 117.2 L1141.1 119.9 L1141.3 118.2 L1141.5 117.4 L1141.7 117.2 L1141.9 118.9 L1142.1 118.4 L1142.4 117.7 L1142.6 119.3 L1142.8 120.6 L1143.0 122.0 L1143.2 121.3 L1143.4 119.3 L1143.6 118.1 L1143.8 119.0 L1144.0 119.5 L1144.3 118.5 L1144.5 118.3 L1144.7 118.5 L1144.9 118.6 L1145.1 118.3 L1145.3 119.7 L1145.5 118.8 L1145.8 117.3 L1146.0 119.4 L1146.2 119.6 L1146.4 119.6 L1146.7 121.8 L1146.9 119.5 L1147.1 120.8 L1147.3 121.4 L1147.5 123.4 L1147.8 121.5 L1148.0 123.0 L1148.2 124.8 L1148.4 124.0 L1148.7 124.5 L1148.9 123.4 L1149.1 123.1 L1149.3 124.4 L1149.6 122.5 L1149.8 120.2 L1150.0 123.5 L1150.2 120.9 L1150.4 121.2 L1150.6 121.1 L1150.8 122.3 L1151.0 122.9 L1151.3 119.1 L1151.5 119.6 L1151.7 117.5 L1151.9 118.3 L1152.1 117.5 L1152.3 118.0 L1152.5 115.4 L1152.8 116.4 L1153.0 117.0 L1153.2 116.7 L1153.4 117.9 L1153.7 116.8 L1153.9 114.3 L1154.1 112.8 L1154.3 113.0 L1154.5 115.6 L1154.7 115.4 L1154.9 112.9 L1155.2 112.9 L1155.4 113.3 L1155.6 112.4 L1155.8 110.8 L1156.0 111.5 L1156.2 114.3 L1156.4 112.8 L1156.6 112.5 L1156.9 110.4 L1157.1 111.9 L1157.3 109.4 L1157.5 109.9 L1157.8 111.2 L1158.0 108.4 L1158.2 107.6 L1158.4 108.4 L1158.6 107.4 L1158.8 104.7 L1159.0 106.9 L1159.2 105.9 L1159.5 110.3 L1159.7 109.0 L1159.9 110.4 L1160.1 110.9 L1160.3 108.5 L1160.5 110.9 L1160.7 111.9 L1161.0 113.2 L1161.2 111.7 L1161.4 110.8 L1161.6 111.0 L1161.9 111.4 L1162.1 112.1 L1162.3 111.8 L1162.5 114.7 L1162.7 113.4 L1162.9 113.9 L1163.1 113.6 L1163.3 113.0 L1163.6 112.4 L1163.8 113.0 L1164.0 111.1 L1164.2 111.4 L1164.4 113.6 L1164.6 114.9 L1164.8 113.4 L1165.1 113.6 L1165.3 116.6 L1165.5 115.9 L1165.7 117.0 L1166.0 118.3 L1166.2 118.3 L1166.4 120.2 L1166.6 121.3 L1166.8 119.9 L1167.0 120.6 L1167.2 120.8 L1167.5 121.4 L1167.7 118.5 L1167.9 122.3 L1168.1 119.5 L1168.3 119.7 L1168.5 118.2 L1168.7 119.9 L1168.9 122.9 L1169.2 122.2 L1169.4 116.7 L1169.6 119.6 L1169.8 120.0 L1170.1 120.3 L1170.3 122.0 L1170.5 121.9 L1170.7 121.9 L1170.9 121.8 L1171.2 121.2 L1171.4 121.0 L1171.6 120.6 L1171.8 119.0 L1172.1 117.8 L1172.3 118.1 L1172.5 117.5 L1172.7 117.9 L1172.9 116.3 L1173.1 117.3 L1173.3 115.7 L1173.5 111.1 L1173.8 114.6 L1174.0 116.3 L1174.2 111.7 L1174.4 110.3 L1174.6 114.6 L1174.8 114.3 L1175.0 111.4 L1175.3 112.7 L1175.5 110.9 L1175.7 108.5 L1175.9 107.5 L1176.2 110.7 L1176.4 108.5 L1176.6 107.9 L1176.8 108.3 L1177.0 108.8 L1177.2 108.8 L1177.4 104.6 L1177.7 106.9 L1177.9 108.0 L1178.1 106.8 L1178.3 105.9 L1178.5 104.3 L1178.7 102.6 L1178.9 102.0 L1179.1 103.7 L1179.4 101.8 L1179.6 102.7 L1179.8 101.5 L1180.0 105.0 L1180.3 104.1 L1180.5 102.5 L1180.7 101.5 L1180.9 101.7 L1181.1 101.1 L1181.3 100.1 L1181.5 99.1 L1181.8 98.6 L1182.0 96.7 L1182.2 98.8 L1182.4 97.5 L1182.6 97.3 L1182.8 96.1 L1183.0 98.4 L1183.2 100.0 L1183.5 97.2 L1183.7 97.6 L1183.9 99.0 L1184.1 97.9 L1184.4 103.8 L1184.6 103.3 L1184.8 101.3 L1185.0 104.5 L1185.2 106.1 L1185.4 103.4 L1185.6 101.5 L1185.8 103.7 L1186.1 102.7 L1186.3 104.3 L1186.5 104.6 L1186.7 103.9 L1186.9 106.7 L1187.1 104.8 L1187.3 101.5 L1187.6 101.8 L1187.8 99.0 L1188.0 101.3 L1188.2 99.1 L1188.5 100.4 L1188.7 103.7 L1188.9 99.8 L1189.1 99.8 L1189.3 99.6 L1189.6 97.1 L1189.8 99.4 L1190.0 98.8 L1190.2 102.0 L1190.5 99.3 L1190.7 99.8 L1190.9 100.1 L1191.1 101.3 L1191.3 100.6 L1191.5 103.3 L1191.7 104.8 L1192.0 106.1 L1192.2 105.4 L1192.4 103.0 L1192.6 106.7 L1192.8 107.4 L1193.0 107.1 L1193.2 107.6 L1193.4 110.5 L1193.7 107.7 L1193.9 108.9 L1194.1 109.5 L1194.3 109.8 L1194.5 112.7 L1194.8 110.1 L1195.0 110.6 L1195.2 111.9 L1195.4 109.6 L1195.7 113.0 L1195.9 113.2 L1196.1 115.0 L1196.3 112.7 L1196.5 110.2 L1196.7 112.2 L1197.0 110.4 L1197.2 110.7 L1197.4 109.4 L1197.6 112.0 L1197.8 110.9 L1198.0 109.8 L1198.2 111.9 L1198.5 108.5 L1198.7 108.9 L1198.9 107.7 L1199.1 106.5 L1199.3 107.8 L1199.5 106.6 L1199.8 107.7 L1200.0 107.1 L1200.2 107.3 L1200.4 107.3 L1200.7 104.5 L1200.9 105.5 L1201.1 107.8 L1201.3 111.3 L1201.5 107.9 L1201.8 106.9 L1202.0 106.0 L1202.2 105.7 L1202.4 106.6 L1202.6 105.9 L1202.9 108.6 L1203.1 107.9 L1203.3 107.3 L1203.5 108.4 L1203.8 107.4 L1204.0 108.5 L1204.2 110.4 L1204.4 110.6 L1204.6 110.1 L1204.9 111.5 L1205.1 106.1 L1205.3 109.6 L1205.5 109.2 L1205.7 109.7 L1205.9 110.7 L1206.2 113.4 L1206.4 112.6 L1206.6 115.8 L1206.8 116.7 L1207.0 113.4 L1207.2 111.9 L1207.4 115.0 L1207.7 114.2 L1207.9 117.5 L1208.1 117.0 L1208.3 116.0 L1208.5 120.2 L1208.7 119.9 L1209.0 115.2 L1209.2 115.1 L1209.4 118.0 L1209.6 115.2 L1209.8 117.6 L1210.1 118.3 L1210.3 115.9 L1210.5 119.6 L1210.7 118.5 L1211.0 117.4 L1211.2 120.0 L1211.4 121.3 L1211.6 119.6 L1211.8 118.4 L1212.1 117.8 L1212.3 118.5 L1212.5 117.6 L1212.7 117.6 L1213.0 116.6 L1213.2 117.4 L1213.4 120.6 L1213.6 119.1 L1213.8 119.1 L1214.1 119.8 L1214.3 116.8 L1214.5 114.6 L1214.7 114.1 L1215.0 115.9 L1215.2 114.9 L1215.4 116.7 L1215.6 116.5 L1215.8 116.4 L1216.1 113.8 L1216.3 113.9 L1216.5 114.9 L1216.7 113.4 L1216.9 111.3 L1217.2 110.4 L1217.4 111.4 L1217.6 109.7 L1217.8 109.3 L1218.0 110.9 L1218.3 110.7 L1218.5 109.8 L1218.7 107.2 L1218.9 107.7 L1219.2 107.1 L1219.4 108.8 L1219.6 107.6 L1219.8 105.4 L1220.0 106.0 L1220.2 108.6 L1220.5 108.1 L1220.7 104.9 L1220.9 106.8 L1221.1 110.6 L1221.3 105.4 L1221.5 106.6 L1221.7 107.0 L1222.0 105.4 L1222.2 100.8 L1222.4 101.1 L1222.6 102.0 L1222.8 103.1 L1223.0 102.6 L1223.2 104.9 L1223.4 104.0 L1223.7 103.3 L1223.9 105.0 L1224.1 102.5 L1224.3 109.2 L1224.5 108.1 L1224.7 108.2 L1224.9 104.1 L1225.1 102.4 L1225.4 98.5 L1225.6 94.7 L1225.8 89.7 L1226.0 82.7 L1226.3 80.1 L1226.5 78.7 L1226.7 74.6 L1226.9 69.0 L1227.1 69.1 L1227.3 67.2 L1227.5 61.9 L1227.8 58.8 L1228.0 55.8 L1228.2 50.7 L1228.4 50.7 L1228.6 47.7 L1228.8 43.8 L1229.0 46.8 L1229.2 50.4 L1229.4 55.3 L1229.6 60.5 L1229.8 63.1 L1230.0 63.0 L1230.2 62.5 L1230.5 59.5 L1230.7 58.6 L1230.9 57.6 L1231.1 55.5 L1231.4 55.9 L1231.6 54.1 L1231.8 55.0 L1232.0 57.8 L1232.2 58.0 L1232.4 56.3 L1232.6 59.5 L1232.8 58.9 L1233.1 62.5 L1233.3 58.0 L1233.5 60.5 L1233.7 59.8 L1233.9 61.1 L1234.1 59.9 L1234.3 60.8 L1234.6 58.9 L1234.8 59.1 L1235.0 58.5 L1235.2 63.9 L1235.5 61.7 L1235.7 58.6 L1235.9 55.1 L1236.1 56.3 L1236.3 57.1 L1236.5 57.7 L1236.7 56.8 L1237.0 59.5 L1237.2 62.3 L1237.4 62.7 L1237.6 64.3 L1237.8 64.5 L1238.0 65.7 L1238.2 64.5 L1238.4 64.9 L1238.7 65.1 L1238.9 65.3 L1239.1 64.2 L1239.3 62.1 L1239.6 65.4 L1239.8 64.8 L1240.0 65.3 L1240.2 63.1 L1240.4 65.6 L1240.7 66.0 L1240.9 67.2 L1241.1 67.9 L1241.3 67.7 L1241.6 66.0 L1241.8 68.6 L1242.0 68.0 L1242.2 70.7 L1242.4 70.6 L1242.6 69.7 L1242.8 70.7 L1243.0 69.6 L1243.3 74.5 L1243.5 73.2 L1243.7 73.2 L1243.9 73.5 L1244.1 73.4 L1244.3 79.3 L1244.5 80.5 L1244.8 82.8 L1245.0 84.5 L1245.2 86.1 L1245.4 88.2 L1245.7 87.0 L1245.9 92.0 L1246.1 91.9 L1246.3 92.6 L1246.5 92.7 L1246.7 92.5 L1246.9 93.3 L1247.2 94.5 L1247.4 92.5 L1247.6 96.7 L1247.8 95.8 L1248.0 93.2 L1248.2 92.7 L1248.4 90.1 L1248.6 91.0 L1248.8 88.7 L1249.0 85.6 L1249.2 82.2 L1249.4 83.0 L1249.6 83.6 L1249.9 85.5 L1250.1 83.1 L1250.3 83.7 L1250.5 83.2 L1250.8 85.3 L1251.0 83.3 L1251.2 81.5 L1251.4 80.2 L1251.6 80.6 L1251.8 82.7 L1252.0 85.4 L1252.2 83.2 L1252.5 85.2 L1252.7 85.3 L1252.9 87.0 L1253.1 87.4 L1253.3 87.2 L1253.5 88.9 L1253.7 87.9 L1254.0 89.9 L1254.2 89.0 L1254.4 87.4 L1254.6 86.4 L1254.8 88.6 L1255.1 92.9 L1255.3 91.7 L1255.5 91.6 L1255.7 90.6 L1256.0 91.0 L1256.2 94.5 L1256.4 94.5 L1256.6 93.0 L1256.8 91.0 L1257.1 95.3 L1257.3 97.4 L1257.5 96.3 L1257.7 97.3 L1258.0 99.8 L1258.2 101.2 L1258.4 99.7 L1258.6 101.5 L1258.8 100.0 L1259.1 101.7 L1259.3 99.6 L1259.5 101.3 L1259.7 102.0 L1260.0 104.1 L1260.2 104.6 L1260.4 101.3 L1260.6 103.4 L1260.8 100.1 L1261.1 99.7 L1261.3 102.9 L1261.5 104.1 L1261.7 102.9 L1262.0 104.2 L1262.2 102.9 L1262.4 103.5 L1262.6 104.4 L1262.8 105.0 L1263.1 104.1 L1263.3 103.7 L1263.5 106.2 L1263.7 106.8 L1263.9 103.0 L1264.2 107.8 L1264.4 106.5 L1264.6 107.6 L1264.8 110.6 L1265.0 109.1 L1265.3 109.0 L1265.5 111.4 L1265.7 110.7 L1265.9 107.5 L1266.2 110.3 L1266.4 112.5 L1266.6 114.7 L1266.8 117.0 L1267.0 113.1 L1267.3 111.7 L1267.5 114.5 L1267.7 114.1 L1267.9 114.5 L1268.2 117.8 L1268.4 114.7 L1268.6 116.5 L1268.8 115.8 L1269.0 113.7 L1269.3 115.1 L1269.5 118.4 L1269.7 115.4 L1269.9 117.1 L1270.1 114.9 L1270.4 111.7 L1270.6 110.7 L1270.8 107.8 L1271.0 106.2 L1271.3 104.0 L1271.5 104.1 L1271.7 100.2 L1271.9 102.4 L1272.1 101.1 L1272.4 103.3 L1272.6 105.1 L1272.8 106.5 L1273.0 106.5 L1273.3 107.6 L1273.5 105.1 L1273.7 107.7 L1273.9 109.3 L1274.1 113.3 L1274.4 110.6 L1274.6 112.6 L1274.8 112.7 L1275.0 111.2 L1275.2 109.4 L1275.5 112.7 L1275.7 115.5 L1275.9 116.0 L1276.1 115.3 L1276.4 117.7 L1276.6 115.0 L1276.8 116.1 L1277.0 115.4 L1277.2 119.0 L1277.5 118.9 L1277.7 115.2 L1277.9 112.3 L1278.1 111.5 L1278.3 114.5 L1278.6 113.7 L1278.8 111.1 L1279.0 111.6 L1279.2 110.3 L1279.5 108.8 L1279.7 109.8 L1279.9 108.7 L1280.1 110.4 L1280.3 113.9 L1280.6 114.8 L1280.8 116.3 L1281.0 116.8 L1281.2 117.5 L1281.5 121.5 L1281.7 123.9 L1281.9 125.3 L1282.1 122.9 L1282.3 123.2 L1282.6 123.7 L1282.8 127.3 L1283.0 125.1 L1283.2 126.9 L1283.5 125.4 L1283.7 127.2 L1283.9 129.6 L1284.1 127.5 L1284.3 130.1 L1284.6 130.5 L1284.8 131.2 L1285.0 130.1 L1285.2 130.9 L1285.4 132.8 L1285.7 134.4 L1285.9 131.2 L1286.1 134.2 L1286.3 136.5 L1286.5 135.6 L1286.8 135.0 L1287.0 135.0 L1287.2 135.6 L1287.4 136.5 L1287.7 139.3 L1287.9 138.1 L1288.1 139.6 L1288.3 141.4 L1288.5 140.7 L1288.7 140.1 L1289.0 142.8 L1289.2 141.1 L1289.4 139.6 L1289.6 140.5 L1289.8 140.8 L1290.0 142.4 L1290.2 141.3 L1290.5 139.3 L1290.7 139.4 L1290.9 141.0 L1291.1 140.9 L1291.3 142.2 L1291.5 140.8 L1291.8 143.8 L1292.0 146.9 L1292.2 144.8 L1292.4 145.7 L1292.7 144.7 L1292.9 143.9 L1293.1 146.2 L1293.3 145.1 L1293.5 147.2 L1293.8 149.0 L1294.0 147.6 L1294.2 149.2 L1294.4 145.2 L1294.6 145.1 L1294.9 144.3 L1295.1 143.4 L1295.3 142.9 L1295.5 144.5 L1295.8 142.7 L1296.0 143.9 L1296.2 142.6 L1296.4 144.1 L1296.6 143.8 L1296.9 144.7 L1297.1 143.4 L1297.3 143.5 L1297.5 143.4 L1297.7 145.1 L1297.9 142.0 L1298.2 141.2 L1298.4 141.4 L1298.6 141.1 L1298.8 140.7 L1299.0 140.4 L1299.2 138.6 L1299.4 139.2 L1299.7 139.6 L1299.9 137.7 L1300.1 135.9 L1300.3 134.9 L1300.5 138.2 L1300.7 138.6 L1300.9 139.2 L1301.1 137.0 L1301.3 137.5 L1301.6 138.8 L1301.8 137.0 L1302.0 138.6 L1302.2 136.7 L1302.4 136.7 L1302.6 137.8 L1302.8 138.0 L1303.1 136.8 L1303.3 137.8 L1303.5 141.9 L1303.7 140.3 L1304.0 144.3 L1304.2 142.8 L1304.4 142.4 L1304.6 143.7 L1304.8 141.6 L1305.0 138.2 L1305.2 138.6 L1305.5 138.4 L1305.7 141.8 L1305.9 139.1 L1306.1 141.5 L1306.3 135.8 L1306.5 137.1 L1306.7 139.0 L1306.9 135.5 L1307.2 135.4 L1307.4 134.8 L1307.6 133.9 L1307.8 130.6 L1308.1 130.1 L1308.3 130.4 L1308.5 128.4 L1308.7 128.6 L1308.9 128.4 L1309.1 128.6 L1309.3 128.0 L1309.5 130.0 L1309.8 130.5 L1310.0 129.2 L1310.2 128.4 L1310.4 131.3 L1310.6 132.5 L1310.8 132.9 L1311.0 131.8 L1311.2 132.0 L1311.5 131.6 L1311.7 126.6 L1311.9 130.7 L1312.1 128.2 L1312.3 129.5 L1312.5 128.5 L1312.7 126.5 L1313.0 127.6 L1313.2 124.3 L1313.4 125.8 L1313.6 127.4 L1313.8 126.5 L1314.0 128.8 L1314.2 128.3 L1314.4 129.6 L1314.7 127.3 L1314.9 128.5 L1315.1 124.3 L1315.3 128.6 L1315.5 128.4 L1315.7 128.0 L1315.9 128.5 L1316.1 128.6 L1316.4 130.4 L1316.6 132.9 L1316.8 132.8 L1317.0 136.1 L1317.3 135.0 L1317.5 134.6 L1317.7 134.3 L1317.9 132.8 L1318.1 132.2 L1318.4 133.1 L1318.6 133.4 L1318.8 133.9 L1319.0 135.9 L1319.2 136.2 L1319.5 137.4 L1319.7 137.0 L1319.9 138.4 L1320.1 136.8 L1320.4 138.4 L1320.6 136.8 L1320.8 142.6 L1321.0 140.6 L1321.2 141.6 L1321.4 141.4 L1321.7 139.8 L1321.9 142.8 L1322.1 142.8 L1322.3 141.1 L1322.5 144.7 L1322.7 143.2 L1322.9 145.0 L1323.2 142.6 L1323.4 144.2 L1323.6 145.6 L1323.8 146.3 L1324.0 146.2 L1324.2 145.0 L1324.5 148.3 L1324.7 145.8 L1324.9 145.5 L1325.1 146.0 L1325.3 146.3 L1325.6 146.7 L1325.8 145.0 L1326.0 145.2 L1326.2 146.0 L1326.5 145.2 L1326.7 148.9 L1326.9 145.8 L1327.1 146.2 L1327.3 145.5 L1327.6 148.8 L1327.8 147.6 L1328.0 151.4 L1328.2 149.6 L1328.5 150.5 L1328.7 150.5 L1328.9 147.9 L1329.1 151.5 L1329.3 149.1 L1329.6 149.0 L1329.8 153.4 L1330.0 151.6 L1330.2 148.0 L1330.4 145.2 L1330.7 144.5 L1330.9 145.4 L1331.1 140.2 L1331.3 134.9 L1331.6 131.8 L1331.8 134.6 L1332.0 132.9 L1332.2 133.1 L1332.4 135.3 L1332.6 133.1 L1332.8 134.2 L1333.0 135.6 L1333.3 135.5 L1333.5 137.5 L1333.7 135.6 L1333.9 134.3 L1334.1 135.7 L1334.3 136.2 L1334.5 134.0 L1334.7 137.6 L1334.9 135.2 L1335.1 132.2 L1335.3 131.7 L1335.5 131.7 L1335.7 133.2 L1335.9 132.4 L1336.1 131.7 L1336.4 131.5 L1336.6 130.1 L1336.8 131.2 L1337.0 128.8 L1337.2 130.6 L1337.4 130.8 L1337.6 128.9 L1337.8 131.8 L1338.0 130.1 L1338.3 130.1 L1338.5 132.5 L1338.7 131.5 L1338.9 130.9 L1339.1 130.7 L1339.3 127.3 L1339.5 129.5 L1339.8 127.8 L1340.0 129.4 L1340.2 129.2 L1340.4 127.7 L1340.7 127.7 L1340.9 128.6 L1341.1 129.3 L1341.3 130.8 L1341.5 129.9 L1341.7 130.3 L1341.9 130.4 L1342.2 133.8 L1342.4 133.7 L1342.6 131.4 L1342.8 132.6 L1343.0 132.5 L1343.2 131.6 L1343.4 130.4 L1343.6 130.2 L1343.8 131.2 L1344.1 128.2 L1344.3 130.0 L1344.5 129.0 L1344.7 129.2 L1344.9 128.9 L1345.1 127.6 L1345.3 125.7 L1345.6 126.7 L1345.8 124.3 L1346.0 121.9 L1346.2 120.9 L1346.4 125.4 L1346.6 128.2 L1346.8 128.8 L1347.0 127.0 L1347.2 128.1 L1347.5 131.1 L1347.7 129.5 L1347.9 129.9 L1348.1 131.0 L1348.3 130.7 L1348.5 131.1 L1348.7 130.6 L1349.0 129.9 L1349.2 132.2 L1349.4 132.3 L1349.6 134.8 L1349.9 135.2 L1350.1 134.1 L1350.3 131.4 L1350.5 130.6 L1350.7 134.3 L1350.9 135.8 L1351.1 135.4 L1351.3 132.2 L1351.6 133.2 L1351.8 132.5 L1352.0 132.0 L1352.2 133.1 L1352.4 132.5 L1352.6 133.9 L1352.8 131.0 L1353.1 128.9 L1353.3 128.5 L1353.5 125.7 L1353.7 124.1 L1354.0 124.5 L1354.2 123.1 L1354.4 124.7 L1354.6 122.7 L1354.8 122.4 L1355.0 123.0 L1355.2 124.3 L1355.5 123.9 L1355.7 124.8 L1355.9 120.7 L1356.1 120.8 L1356.3 120.2 L1356.5 119.6 L1356.7 121.4 L1356.9 123.3 L1357.2 124.6 L1357.4 124.5 L1357.6 124.9 L1357.8 122.1 L1358.1 121.1 L1358.3 122.1 L1358.5 120.1 L1358.7 121.6 L1358.9 121.1 L1359.1 123.2 L1359.3 125.1 L1359.5 125.5 L1359.8 122.5 L1360.0 123.8 L1360.2 125.1 L1360.4 127.9 L1360.6 126.9 L1360.8 127.3 L1361.0 126.0 L1361.3 128.2 L1361.5 125.4 L1361.7 126.7 L1361.9 123.8 L1362.2 124.4 L1362.4 123.1 L1362.6 122.7 L1362.8 126.1 L1363.0 124.3 L1363.2 122.4 L1363.4 123.7 L1363.7 123.9 L1363.9 126.5 L1364.1 128.7 L1364.3 128.8 L1364.5 125.0 L1364.7 125.3 L1364.9 127.3 L1365.1 126.8 L1365.4 125.7 L1365.6 122.1 L1365.8 122.6 L1366.0 121.7 L1366.3 123.6 L1366.5 121.0 L1366.7 122.1 L1366.9 117.9 L1367.1 117.4 L1367.4 116.0 L1367.6 116.0 L1367.8 115.2 L1368.0 115.0 L1368.3 110.8 L1368.5 110.7 L1368.7 110.3 L1368.9 111.2 L1369.1 109.0 L1369.3 112.1 L1369.5 113.0 L1369.8 111.0 L1370.0 108.7 L1370.2 108.0 L1370.4 107.9 L1370.6 107.8 L1370.8 108.8 L1371.0 105.8 L1371.2 108.0 L1371.5 111.3 L1371.7 109.4 L1371.9 109.6 L1372.1 111.8 L1372.4 113.2 L1372.6 113.6 L1372.8 111.6 L1373.0 113.4 L1373.2 110.7 L1373.4 112.8 L1373.6 112.4 L1373.8 110.5 L1374.1 109.2 L1374.3 111.1 L1374.5 112.2 L1374.7 113.7 L1374.9 113.1 L1375.1 113.3 L1375.3 111.2 L1375.6 113.1 L1375.8 111.1 L1376.0 115.1 L1376.2 114.2 L1376.5 117.4 L1376.7 115.8 L1376.9 114.8 L1377.1 115.4 L1377.3 118.7 L1377.5 115.9 L1377.7 116.4 L1378.0 118.3 L1378.2 118.0 L1378.4 120.9 L1378.6 124.3 L1378.8 120.8 L1379.0 122.8 L1379.2 120.7 L1379.4 120.7 L1379.7 120.6 L1379.9 116.9 L1380.1 117.7 L1380.3 118.4 L1380.6 117.8 L1380.8 115.9 L1381.0 116.4 L1381.2 115.8 L1381.4 117.9 L1381.6 117.9 L1381.8 117.7 L1382.0 119.4 L1382.3 117.4 L1382.5 117.1 L1382.7 120.5 L1382.9 121.8 L1383.1 122.5 L1383.3 118.6 L1383.5 116.1 L1383.7 112.1 L1383.9 110.8 L1384.1 112.9 L1384.3 112.7 L1384.5 111.2 L1384.8 113.3 L1385.0 115.2 L1385.2 117.0 L1385.4 115.5 L1385.7 115.7 L1385.9 117.8 L1386.1 120.3 L1386.3 120.0 L1386.5 122.8 L1386.7 122.1 L1386.9 122.1 L1387.2 120.2 L1387.4 118.8 L1387.6 118.5 L1387.8 124.0 L1388.0 121.0 L1388.2 123.2 L1388.4 123.8 L1388.6 120.2 L1388.9 119.0 L1389.1 119.6 L1389.3 119.1 L1389.5 120.3 L1389.8 116.5 L1390.0 119.1 L1390.2 119.3 L1390.4 120.9 L1390.6 116.5 L1390.8 111.8 L1391.0 109.6 L1391.2 111.8 L1391.5 110.9 L1391.7 109.1 L1391.9 106.9 L1392.1 105.3 L1392.3 104.9 L1392.5 100.4 L1392.7 100.2 L1393.0 99.4 L1393.2 101.9 L1393.4 103.7 L1393.6 103.2 L1393.9 106.0 L1394.1 101.9 L1394.3 101.3 L1394.5 103.2 L1394.7 103.1 L1395.0 107.7 L1395.2 107.2 L1395.4 107.7 L1395.6 107.1 L1395.9 109.8 L1396.1 110.2 L1396.3 108.9 L1396.5 110.9 L1396.7 109.8 L1396.9 112.1 L1397.1 111.3 L1397.3 111.5 L1397.6 112.2 L1397.8 112.8 L1398.0 114.7 L1398.2 116.0 L1398.4 114.8 L1398.6 116.4 L1398.8 113.3 L1399.1 114.9 L1399.3 114.2 L1399.5 112.4 L1399.7 108.3 L1400.0 107.7 L1400.2 110.0 L1400.4 106.4 L1400.6 108.9 L1400.8 106.5 L1401.0 104.5 L1401.2 101.5 L1401.5 106.1 L1401.7 103.8 L1401.9 101.4 L1402.1 98.4 L1402.3 101.4 L1402.5 101.2 L1402.7 98.9 L1402.9 96.5 L1403.2 93.6 L1403.4 92.0 L1403.6 90.0 L1403.8 87.3 L1404.1 87.5 L1404.3 86.3 L1404.5 84.1 L1404.7 80.4 L1404.9 80.2 L1405.1 82.4 L1405.3 81.7 L1405.5 80.2 L1405.8 80.1 L1406.0 80.9 L1406.2 79.4 L1406.4 79.8 L1406.6 77.2 L1406.8 78.8 L1407.0 78.9 L1407.3 77.7 L1407.5 79.5 L1407.7 79.8 L1407.9 82.1 L1408.2 82.9 L1408.4 82.7 L1408.6 85.4 L1408.8 82.5 L1409.0 85.8 L1409.2 84.5 L1409.4 85.2 L1409.7 88.3 L1409.9 88.9 L1410.1 90.8 L1410.3 90.3 L1410.5 91.1 L1410.7 94.2 L1410.9 92.9 L1411.1 95.0 L1411.4 92.9 L1411.6 93.6 L1411.8 93.7 L1412.0 95.4 L1412.3 95.0 L1412.5 94.3 L1412.7 92.6 L1412.9 93.8 L1413.2 89.7 L1413.4 85.2 L1413.6 80.6 L1413.8 80.0 L1414.1 72.8 L1414.3 70.4 L1414.5 73.9 L1414.7 75.2 L1414.9 74.8 L1415.2 76.3 L1415.4 79.7 L1415.6 77.8 L1415.8 76.9 L1416.0 78.0 L1416.2 78.0 L1416.4 80.6 L1416.6 81.0 L1416.8 82.5 L1417.0 78.7 L1417.2 80.7 L1417.4 81.5 L1417.7 78.3 L1417.9 78.5 L1418.1 76.6 L1418.3 74.2 L1418.6 74.3 L1418.8 74.7 L1419.0 71.5 L1419.2 69.6 L1419.5 68.4 L1419.7 67.2 L1419.9 64.8 L1420.1 64.2 L1420.3 60.9 L1420.6 61.1 L1420.8 60.0 L1421.0 63.5 L1421.2 60.0 L1421.5 60.6 L1421.7 57.3 L1421.9 55.4 L1422.1 58.2 L1422.3 59.1 L1422.5 60.8 L1422.7 61.8 L1422.9 63.6 L1423.1 64.6 L1423.3 62.3 L1423.5 62.8 L1423.7 64.8 L1423.9 62.3 L1424.2 61.4 L1424.4 62.2 L1424.6 62.9 L1424.8 63.7 L1425.0 62.2 L1425.2 64.0 L1425.5 63.8 L1425.7 64.5 L1425.9 67.5 L1426.1 67.5 L1426.4 68.6 L1426.6 68.3 L1426.8 68.7 L1427.0 69.6 L1427.2 63.9 L1427.4 64.7 L1427.6 65.5 L1427.8 65.3 L1428.0 67.0 L1428.2 69.5 L1428.4 74.0 L1428.7 75.6 L1428.9 78.0 L1429.1 82.4 L1429.3 72.8 L1429.5 71.0 L1429.7 62.8" fill="none" stroke="#4572a7" stroke-width="2.5" stroke-linejoin="round" stroke-linecap="butt"/>
<rect x="880.2" y="109.2" width="1.6" height="2.4" fill="#4572a7"/>
<text x="209.5" y="386" text-anchor="middle" font-size="14" fill="#444444">2008</text>
<text x="376.5" y="386" text-anchor="middle" font-size="14" fill="#444444">2010</text>
<text x="543.5" y="386" text-anchor="middle" font-size="14" fill="#444444">2012</text>
<text x="710.5" y="386" text-anchor="middle" font-size="14" fill="#444444">2014</text>
<text x="877.5" y="386" text-anchor="middle" font-size="14" fill="#444444">2016</text>
<text x="1044.5" y="386" text-anchor="middle" font-size="14" fill="#444444">2018</text>
<text x="1210.5" y="386" text-anchor="middle" font-size="14" fill="#444444">2020</text>
<text x="1377.5" y="386" text-anchor="middle" font-size="14" fill="#444444">2022</text>
<text x="76" y="18.3" text-anchor="end" font-size="14" fill="#444444">130</text>
<text x="76" y="88.5" text-anchor="end" font-size="14" fill="#444444">120</text>
<text x="76" y="157.5" text-anchor="end" font-size="14" fill="#444444">110</text>
<text x="76" y="226.2" text-anchor="end" font-size="14" fill="#444444">100</text>
<text x="76" y="295.5" text-anchor="end" font-size="14" fill="#444444">90</text>
<text x="76" y="363.5" text-anchor="end" font-size="14" fill="#444444">80</text>
<text transform="translate(27,187.5) rotate(-90)" text-anchor="middle" font-size="14" fill="#555555" letter-spacing="0.45">Index Jan 2006=100</text>
<path d="M95.0 421.6 L105.0 421.4 L116.0 421.5 L120.0 422.8 L123.0 424.0 L127.0 423.0 L130.0 422.3 L135.0 422.6 L139.5 422.8 L145.5 423.3 L148.4 423.2 L151.3 423.0 L154.2 422.9 L157.0 422.7 L159.9 423.0 L162.8 423.2 L165.7 423.3 L168.6 423.9 L171.5 423.8 L174.4 423.5 L177.3 423.2 L180.1 423.1 L183.0 423.1 L185.9 423.4 L188.8 423.4 L191.7 423.7 L194.6 424.1 L197.5 424.4 L200.3 424.9 L203.2 425.2 L206.1 425.3 L209.0 425.3 L211.9 425.3 L214.8 425.7 L217.7 426.2 L220.6 426.2 L223.4 425.8 L226.3 425.6 L229.2 426.0 L232.1 426.8 L235.0 427.6 L237.9 428.0 L240.8 428.6 L243.6 429.0 L246.5 428.7 L249.4 428.3 L252.3 428.1 L255.2 428.4 L258.1 428.4 L261.0 428.7 L263.9 428.9 L266.7 429.1 L269.6 429.9 L272.5 430.1 L275.4 430.3 L278.3 430.5 L281.2 430.4 L284.1 430.3 L286.9 430.4 L289.8 430.1 L292.7 430.1 L295.6 430.4 L298.5 430.7 L301.4 430.3 L304.3 429.2 L307.1 428.4 L310.0 427.4 L312.9 427.2 L315.8 425.7 L318.7 422.3 L321.6 421.5 L324.5 421.2 L327.4 420.3 L330.2 420.8 L333.1 422.4 L336.0 422.5 L338.9 421.3 L341.8 420.8 L344.7 420.0 L347.6 418.9 L350.4 419.0 L353.3 420.5 L356.2 421.1 L359.1 421.2 L362.0 421.7 L364.9 422.9 L367.8 424.2 L370.7 424.3 L373.5 424.1 L376.4 424.0 L379.3 424.6 L382.2 425.4 L385.1 425.4 L388.0 425.2 L390.9 425.5 L393.7 426.1 L396.6 426.4 L399.5 426.9 L402.4 426.8 L405.3 427.0 L408.2 427.4 L411.1 426.9 L414.0 426.3 L416.8 426.7 L419.7 426.6 L422.6 425.8 L425.5 425.6 L428.4 425.8 L431.3 426.0 L434.2 426.1 L437.0 426.5 L439.9 426.5 L442.8 425.4 L445.7 424.3 L448.6 423.6 L451.5 424.1 L454.4 424.7 L457.3 425.0 L460.1 425.6 L463.0 426.1 L465.9 425.9 L468.8 425.5 L471.7 426.0 L474.6 426.9 L477.5 427.8 L480.3 428.1 L483.2 428.3 L486.1 427.9 L489.0 427.3 L491.9 427.3 L494.8 427.4 L497.7 427.9 L500.6 428.3 L503.4 428.5 L506.3 428.6 L509.2 428.9 L512.1 429.1 L515.0 429.4 L517.9 429.9 L520.8 430.5 L523.6 430.5 L526.5 430.0 L529.4 430.2 L532.3 430.2 L535.2 430.2 L538.1 430.5 L541.0 430.7 L543.9 430.4 L546.7 430.1 L549.6 429.8 L552.5 428.5 L555.4 427.2 L558.3 427.5 L561.2 428.2 L564.1 427.8 L566.9 427.1 L569.8 427.1 L572.7 426.8 L575.6 426.6 L578.5 426.8 L581.4 427.6 L584.3 428.2 L587.1 428.3 L590.0 428.1 L592.9 428.0 L595.8 427.9 L598.7 427.7 L601.6 427.7 L604.5 427.0 L607.4 425.9 L610.2 425.5 L613.1 425.7 L616.0 425.9 L618.9 426.0 L621.8 426.0 L624.7 426.5 L627.6 426.6 L630.4 427.1 L633.3 427.8 L636.2 427.9 L639.1 427.9 L642.0 427.6 L644.9 427.3 L647.8 427.3 L650.7 427.6 L653.5 427.7 L656.4 427.6 L659.3 427.8 L662.2 427.8 L665.1 427.5 L668.0 426.9 L670.9 426.6 L673.7 426.7 L676.6 426.8 L679.5 426.9 L682.4 427.2 L685.3 426.8 L688.2 426.2 L691.1 426.4 L694.0 426.1 L696.8 425.4 L699.7 425.6 L702.6 426.0 L705.5 426.1 L708.4 425.6 L711.3 425.5 L714.2 426.1 L717.0 426.4 L719.9 426.7 L722.8 426.6 L725.7 426.3 L728.6 426.0 L731.5 425.8 L734.4 426.0 L737.3 425.8 L740.1 425.4 L743.0 425.0 L745.9 425.2 L748.8 425.3 L751.7 425.4 L754.6 425.3 L757.5 425.6 L760.3 425.7 L763.2 425.8 L766.1 426.0 L769.0 425.8 L771.9 425.6 L774.8 425.8 L777.7 426.1 L780.6 426.0 L783.4 425.5 L786.3 425.3 L789.2 425.1 L792.1 424.6 L795.0 423.9 L797.9 423.4 L800.8 423.5 L803.6 423.0 L806.5 422.4 L809.4 421.9 L812.3 420.9 L815.2 420.2 L818.1 419.8 L821.0 419.3 L823.9 418.6 L826.7 418.3 L829.6 417.8 L832.5 416.8 L835.4 416.9 L838.3 417.3 L841.2 417.6 L844.1 418.4 L846.9 418.4 L849.8 417.6 L852.7 417.7 L855.6 417.7 L858.5 416.9 L861.4 416.2 L864.3 415.6 L867.2 415.3 L870.0 414.9 L872.9 414.8 L875.8 414.9 L878.7 415.4 L881.6 415.4 L884.5 414.5 L887.4 413.9 L890.2 413.8 L893.1 413.4 L896.0 413.0 L898.9 412.3 L901.8 411.7 L904.7 412.2 L907.6 412.5 L910.4 412.9 L913.3 413.8 L916.2 414.7 L919.1 415.1 L922.0 415.5 L924.9 415.6 L927.8 414.4 L930.7 414.2 L933.5 414.6 L936.4 414.3 L939.3 413.7 L942.2 413.5 L945.1 413.9 L948.0 414.5 L950.9 414.4 L953.7 414.0 L956.6 413.5 L959.5 413.2 L962.4 413.0 L965.3 412.5 L968.2 411.1 L971.1 410.4 L974.0 410.1 L976.8 409.6 L979.7 409.8 L982.6 410.5 L985.5 411.2 L988.4 411.3 L991.3 411.2 L994.2 411.6 L997.0 412.2 L999.9 412.2 L1002.8 412.2 L1005.7 412.2 L1008.6 412.7 L1011.5 413.2 L1014.4 413.3 L1017.3 413.7 L1020.1 414.4 L1023.0 415.0 L1025.9 415.2 L1028.8 415.4 L1031.7 416.1 L1034.6 416.2 L1037.5 415.4 L1040.3 414.9 L1043.2 414.4 L1046.1 414.2 L1049.0 414.7 L1051.9 414.8 L1054.8 414.6 L1057.7 415.1 L1060.6 415.9 L1063.4 416.8 L1066.3 417.1 L1069.2 416.7 L1072.1 416.5 L1075.0 416.6 L1077.9 416.8 L1080.8 416.7 L1083.6 415.7 L1086.5 414.7 L1089.4 414.2 L1092.3 413.9 L1095.2 413.3 L1098.1 413.0 L1101.0 413.2 L1103.9 413.2 L1106.7 412.8 L1109.6 412.6 L1112.5 412.6 L1115.4 412.7 L1118.3 412.7 L1121.2 412.2 L1124.1 411.6 L1126.9 411.2 L1129.8 411.0 L1132.7 411.1 L1135.6 411.3 L1138.5 411.9 L1141.4 412.4 L1144.3 412.5 L1147.2 412.4 L1150.0 412.3 L1152.9 412.2 L1155.8 412.2 L1158.7 412.3 L1161.6 412.1 L1164.5 411.7 L1167.4 411.3 L1170.2 411.2 L1173.1 411.5 L1176.0 411.9 L1178.9 412.2 L1181.8 412.0 L1184.7 411.5 L1187.6 410.8 L1190.4 410.3 L1193.3 410.4 L1196.2 410.5 L1199.1 410.4 L1202.0 411.0 L1204.9 411.4 L1207.8 411.0 L1210.7 410.9 L1213.5 411.3 L1216.4 411.7 L1219.3 411.9 L1222.2 411.8 L1225.1 411.5 L1228.0 411.0 L1230.9 410.7 L1233.7 408.8 L1236.6 406.4 L1239.5 406.4 L1242.4 406.5 L1245.3 406.7 L1248.2 407.2 L1251.1 408.2 L1254.0 409.3 L1256.8 408.9 L1259.7 409.0 L1262.6 409.7 L1265.5 410.3 L1268.4 410.7 L1271.3 411.2 L1274.2 411.6 L1277.0 411.2 L1279.9 411.2 L1282.8 411.6 L1285.7 411.7 L1288.6 412.6 L1291.5 413.5 L1294.4 414.0 L1297.3 414.3 L1300.1 414.5 L1303.0 414.2 L1305.9 413.9 L1308.8 413.9 L1311.7 413.5 L1314.6 413.1 L1317.5 412.9 L1320.3 413.2 L1323.2 413.7 L1326.1 414.2 L1329.0 414.6 L1331.9 414.8 L1334.8 414.2 L1337.7 413.5 L1340.6 413.3 L1343.4 413.1 L1346.3 413.0 L1349.2 412.9 L1352.1 413.2 L1355.0 413.1 L1357.9 412.6 L1360.8 412.5 L1363.6 412.7 L1366.5 412.7 L1369.4 412.1 L1372.3 411.3 L1375.2 411.3 L1378.1 411.6 L1381.0 412.0 L1383.9 411.9 L1386.7 411.9 L1389.6 412.1 L1392.5 411.4 L1395.4 410.8 L1398.3 411.3 L1401.2 411.1 L1404.1 409.8 L1406.9 408.6 L1409.8 408.9 L1412.7 409.2 L1415.6 408.4 L1418.5 407.9 L1421.4 406.9 L1424.3 406.8 L1427.2 407.3 L1427.2 434 L95.0 434 Z" fill="rgb(133,162,202)" fill-opacity="0.92" stroke="none"/>
<rect x="144" y="404" width="1285" height="30" fill="rgba(102,133,194,0.3)"/>
<text x="258.4" y="429" font-size="14" fill="#a0a0a0">2008</text>
<text x="419.1" y="429" font-size="14" fill="#a0a0a0">2010</text>
<text x="579.6" y="429" font-size="14" fill="#a0a0a0">2012</text>
<text x="740.3" y="429" font-size="14" fill="#a0a0a0">2014</text>
<text x="900.7" y="429" font-size="14" fill="#a0a0a0">2016</text>
<text x="1061.4" y="429" font-size="14" fill="#a0a0a0">2018</text>
<text x="1221.9" y="429" font-size="14" fill="#a0a0a0">2020</text>
<text x="1382.6" y="429" font-size="14" fill="#a0a0a0">2022</text>
<path d="M95.0 421.6 L105.0 421.4 L116.0 421.5 L120.0 422.8 L123.0 424.0 L127.0 423.0 L130.0 422.3 L135.0 422.6 L139.5 422.8 L145.5 423.3 L148.4 423.2 L151.3 423.0 L154.2 422.9 L157.0 422.7 L159.9 423.0 L162.8 423.2 L165.7 423.3 L168.6 423.9 L171.5 423.8 L174.4 423.5 L177.3 423.2 L180.1 423.1 L183.0 423.1 L185.9 423.4 L188.8 423.4 L191.7 423.7 L194.6 424.1 L197.5 424.4 L200.3 424.9 L203.2 425.2 L206.1 425.3 L209.0 425.3 L211.9 425.3 L214.8 425.7 L217.7 426.2 L220.6 426.2 L223.4 425.8 L226.3 425.6 L229.2 426.0 L232.1 426.8 L235.0 427.6 L237.9 428.0 L240.8 428.6 L243.6 429.0 L246.5 428.7 L249.4 428.3 L252.3 428.1 L255.2 428.4 L258.1 428.4 L261.0 428.7 L263.9 428.9 L266.7 429.1 L269.6 429.9 L272.5 430.1 L275.4 430.3 L278.3 430.5 L281.2 430.4 L284.1 430.3 L286.9 430.4 L289.8 430.1 L292.7 430.1 L295.6 430.4 L298.5 430.7 L301.4 430.3 L304.3 429.2 L307.1 428.4 L310.0 427.4 L312.9 427.2 L315.8 425.7 L318.7 422.3 L321.6 421.5 L324.5 421.2 L327.4 420.3 L330.2 420.8 L333.1 422.4 L336.0 422.5 L338.9 421.3 L341.8 420.8 L344.7 420.0 L347.6 418.9 L350.4 419.0 L353.3 420.5 L356.2 421.1 L359.1 421.2 L362.0 421.7 L364.9 422.9 L367.8 424.2 L370.7 424.3 L373.5 424.1 L376.4 424.0 L379.3 424.6 L382.2 425.4 L385.1 425.4 L388.0 425.2 L390.9 425.5 L393.7 426.1 L396.6 426.4 L399.5 426.9 L402.4 426.8 L405.3 427.0 L408.2 427.4 L411.1 426.9 L414.0 426.3 L416.8 426.7 L419.7 426.6 L422.6 425.8 L425.5 425.6 L428.4 425.8 L431.3 426.0 L434.2 426.1 L437.0 426.5 L439.9 426.5 L442.8 425.4 L445.7 424.3 L448.6 423.6 L451.5 424.1 L454.4 424.7 L457.3 425.0 L460.1 425.6 L463.0 426.1 L465.9 425.9 L468.8 425.5 L471.7 426.0 L474.6 426.9 L477.5 427.8 L480.3 428.1 L483.2 428.3 L486.1 427.9 L489.0 427.3 L491.9 427.3 L494.8 427.4 L497.7 427.9 L500.6 428.3 L503.4 428.5 L506.3 428.6 L509.2 428.9 L512.1 429.1 L515.0 429.4 L517.9 429.9 L520.8 430.5 L523.6 430.5 L526.5 430.0 L529.4 430.2 L532.3 430.2 L535.2 430.2 L538.1 430.5 L541.0 430.7 L543.9 430.4 L546.7 430.1 L549.6 429.8 L552.5 428.5 L555.4 427.2 L558.3 427.5 L561.2 428.2 L564.1 427.8 L566.9 427.1 L569.8 427.1 L572.7 426.8 L575.6 426.6 L578.5 426.8 L581.4 427.6 L584.3 428.2 L587.1 428.3 L590.0 428.1 L592.9 428.0 L595.8 427.9 L598.7 427.7 L601.6 427.7 L604.5 427.0 L607.4 425.9 L610.2 425.5 L613.1 425.7 L616.0 425.9 L618.9 426.0 L621.8 426.0 L624.7 426.5 L627.6 426.6 L630.4 427.1 L633.3 427.8 L636.2 427.9 L639.1 427.9 L642.0 427.6 L644.9 427.3 L647.8 427.3 L650.7 427.6 L653.5 427.7 L656.4 427.6 L659.3 427.8 L662.2 427.8 L665.1 427.5 L668.0 426.9 L670.9 426.6 L673.7 426.7 L676.6 426.8 L679.5 426.9 L682.4 427.2 L685.3 426.8 L688.2 426.2 L691.1 426.4 L694.0 426.1 L696.8 425.4 L699.7 425.6 L702.6 426.0 L705.5 426.1 L708.4 425.6 L711.3 425.5 L714.2 426.1 L717.0 426.4 L719.9 426.7 L722.8 426.6 L725.7 426.3 L728.6 426.0 L731.5 425.8 L734.4 426.0 L737.3 425.8 L740.1 425.4 L743.0 425.0 L745.9 425.2 L748.8 425.3 L751.7 425.4 L754.6 425.3 L757.5 425.6 L760.3 425.7 L763.2 425.8 L766.1 426.0 L769.0 425.8 L771.9 425.6 L774.8 425.8 L777.7 426.1 L780.6 426.0 L783.4 425.5 L786.3 425.3 L789.2 425.1 L792.1 424.6 L795.0 423.9 L797.9 423.4 L800.8 423.5 L803.6 423.0 L806.5 422.4 L809.4 421.9 L812.3 420.9 L815.2 420.2 L818.1 419.8 L821.0 419.3 L823.9 418.6 L826.7 418.3 L829.6 417.8 L832.5 416.8 L835.4 416.9 L838.3 417.3 L841.2 417.6 L844.1 418.4 L846.9 418.4 L849.8 417.6 L852.7 417.7 L855.6 417.7 L858.5 416.9 L861.4 416.2 L864.3 415.6 L867.2 415.3 L870.0 414.9 L872.9 414.8 L875.8 414.9 L878.7 415.4 L881.6 415.4 L884.5 414.5 L887.4 413.9 L890.2 413.8 L893.1 413.4 L896.0 413.0 L898.9 412.3 L901.8 411.7 L904.7 412.2 L907.6 412.5 L910.4 412.9 L913.3 413.8 L916.2 414.7 L919.1 415.1 L922.0 415.5 L924.9 415.6 L927.8 414.4 L930.7 414.2 L933.5 414.6 L936.4 414.3 L939.3 413.7 L942.2 413.5 L945.1 413.9 L948.0 414.5 L950.9 414.4 L953.7 414.0 L956.6 413.5 L959.5 413.2 L962.4 413.0 L965.3 412.5 L968.2 411.1 L971.1 410.4 L974.0 410.1 L976.8 409.6 L979.7 409.8 L982.6 410.5 L985.5 411.2 L988.4 411.3 L991.3 411.2 L994.2 411.6 L997.0 412.2 L999.9 412.2 L1002.8 412.2 L1005.7 412.2 L1008.6 412.7 L1011.5 413.2 L1014.4 413.3 L1017.3 413.7 L1020.1 414.4 L1023.0 415.0 L1025.9 415.2 L1028.8 415.4 L1031.7 416.1 L1034.6 416.2 L1037.5 415.4 L1040.3 414.9 L1043.2 414.4 L1046.1 414.2 L1049.0 414.7 L1051.9 414.8 L1054.8 414.6 L1057.7 415.1 L1060.6 415.9 L1063.4 416.8 L1066.3 417.1 L1069.2 416.7 L1072.1 416.5 L1075.0 416.6 L1077.9 416.8 L1080.8 416.7 L1083.6 415.7 L1086.5 414.7 L1089.4 414.2 L1092.3 413.9 L1095.2 413.3 L1098.1 413.0 L1101.0 413.2 L1103.9 413.2 L1106.7 412.8 L1109.6 412.6 L1112.5 412.6 L1115.4 412.7 L1118.3 412.7 L1121.2 412.2 L1124.1 411.6 L1126.9 411.2 L1129.8 411.0 L1132.7 411.1 L1135.6 411.3 L1138.5 411.9 L1141.4 412.4 L1144.3 412.5 L1147.2 412.4 L1150.0 412.3 L1152.9 412.2 L1155.8 412.2 L1158.7 412.3 L1161.6 412.1 L1164.5 411.7 L1167.4 411.3 L1170.2 411.2 L1173.1 411.5 L1176.0 411.9 L1178.9 412.2 L1181.8 412.0 L1184.7 411.5 L1187.6 410.8 L1190.4 410.3 L1193.3 410.4 L1196.2 410.5 L1199.1 410.4 L1202.0 411.0 L1204.9 411.4 L1207.8 411.0 L1210.7 410.9 L1213.5 411.3 L1216.4 411.7 L1219.3 411.9 L1222.2 411.8 L1225.1 411.5 L1228.0 411.0 L1230.9 410.7 L1233.7 408.8 L1236.6 406.4 L1239.5 406.4 L1242.4 406.5 L1245.3 406.7 L1248.2 407.2 L1251.1 408.2 L1254.0 409.3 L1256.8 408.9 L1259.7 409.0 L1262.6 409.7 L1265.5 410.3 L1268.4 410.7 L1271.3 411.2 L1274.2 411.6 L1277.0 411.2 L1279.9 411.2 L1282.8 411.6 L1285.7 411.7 L1288.6 412.6 L1291.5 413.5 L1294.4 414.0 L1297.3 414.3 L1300.1 414.5 L1303.0 414.2 L1305.9 413.9 L1308.8 413.9 L1311.7 413.5 L1314.6 413.1 L1317.5 412.9 L1320.3 413.2 L1323.2 413.7 L1326.1 414.2 L1329.0 414.6 L1331.9 414.8 L1334.8 414.2 L1337.7 413.5 L1340.6 413.3 L1343.4 413.1 L1346.3 413.0 L1349.2 412.9 L1352.1 413.2 L1355.0 413.1 L1357.9 412.6 L1360.8 412.5 L1363.6 412.7 L1366.5 412.7 L1369.4 412.1 L1372.3 411.3 L1375.2 411.3 L1378.1 411.6 L1381.0 412.0 L1383.9 411.9 L1386.7 411.9 L1389.6 412.1 L1392.5 411.4 L1395.4 410.8 L1398.3 411.3 L1401.2 411.1 L1404.1 409.8 L1406.9 408.6 L1409.8 408.9 L1412.7 409.2 L1415.6 408.4 L1418.5 407.9 L1421.4 406.9 L1424.3 406.8 L1427.2 407.3" fill="none" stroke="#4f73ab" stroke-width="1.3"/>
<rect x="95" y="434" width="1335" height="1.5" fill="#e9eff7"/>
<path d="M95 403.5 L1430 403.5" stroke="#bfc5cc" stroke-width="1"/>
<rect x="139.5" y="409.5" width="9" height="19" fill="#f7f7f7" stroke="#929292" stroke-width="1"/>
<path d="M142.5 414 L142.5 424 M145.5 414 L145.5 424" stroke="#8a8a8a" stroke-width="1"/>
<rect x="1424.5" y="409.5" width="9" height="19" fill="#f7f7f7" stroke="#929292" stroke-width="1"/>
<path d="M1427.5 414 L1427.5 424 M1430.5 414 L1430.5 424" stroke="#8a8a8a" stroke-width="1"/>
</svg>
<div class="ft" style="left:33px;font-style:italic;color:#52648a;letter-spacing:0.08px;">Shaded areas indicate U.S. recessions.</div>
<div class="ft" style="left:518px;color:#41484f;letter-spacing:0.12px;">Source: Board of Governors of the Federal Reserve System (US)</div>
<div class="ft" style="left:1246px;color:#41484f;letter-spacing:0.45px;">fred.stlouisfed.org</div>
<svg style="left:1411px;top:460px" width="15" height="14" viewBox="0 0 15 14">
<path d="M1 5 V1 H5 M10 1 H14 V5 M14 9 V13 H10 M5 13 H1 V9" fill="none" stroke="#161616" stroke-width="2"/>
</svg>
</body></html>
